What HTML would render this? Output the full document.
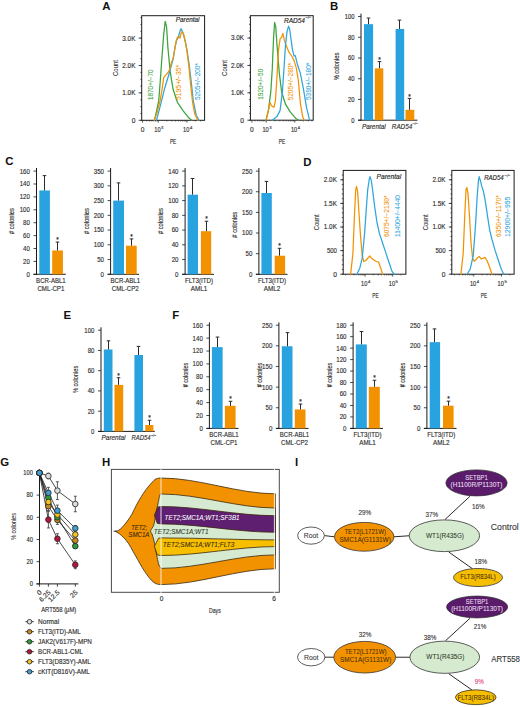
<!DOCTYPE html>
<html><head><meta charset="utf-8"><style>
html,body{margin:0;padding:0;background:#fff;width:520px;height:707px;overflow:hidden;}
svg{display:block;}
text{font-family:"Liberation Sans", sans-serif;}
</style></head><body>
<svg width="520" height="707" viewBox="0 0 520 707" font-family='"Liberation Sans", sans-serif'>
<rect x="0.00" y="0.00" width="520.00" height="707.00" fill="#ffffff" />
<text x="102.20" y="9.80" font-size="11.4" fill="#111" font-weight="bold" >A</text>
<rect x="141.70" y="15.70" width="62.90" height="104.60" fill="none" stroke="#1a1a1a" stroke-width="1.0"/>
<line x1="138.70" y1="120.30" x2="141.70" y2="120.30" stroke="#1a1a1a" stroke-width="0.8" />
<text x="135.40" y="122.70" font-size="6.7" fill="#2e2e2e" stroke="#2e2e2e" stroke-width="0.14" text-anchor="end" >0</text>
<line x1="138.70" y1="92.90" x2="141.70" y2="92.90" stroke="#1a1a1a" stroke-width="0.8" />
<text x="135.40" y="95.30" font-size="6.7" fill="#2e2e2e" stroke="#2e2e2e" stroke-width="0.14" text-anchor="end" textLength="13.10" lengthAdjust="spacingAndGlyphs" >1.0K</text>
<line x1="138.70" y1="65.50" x2="141.70" y2="65.50" stroke="#1a1a1a" stroke-width="0.8" />
<text x="135.40" y="67.90" font-size="6.7" fill="#2e2e2e" stroke="#2e2e2e" stroke-width="0.14" text-anchor="end" textLength="13.10" lengthAdjust="spacingAndGlyphs" >2.0K</text>
<line x1="138.70" y1="38.10" x2="141.70" y2="38.10" stroke="#1a1a1a" stroke-width="0.8" />
<text x="135.40" y="40.50" font-size="6.7" fill="#2e2e2e" stroke="#2e2e2e" stroke-width="0.14" text-anchor="end" textLength="13.10" lengthAdjust="spacingAndGlyphs" >3.0K</text>
<line x1="140.30" y1="120.30" x2="141.70" y2="120.30" stroke="#1a1a1a" stroke-width="0.7" />
<line x1="140.30" y1="113.45" x2="141.70" y2="113.45" stroke="#1a1a1a" stroke-width="0.7" />
<line x1="140.30" y1="106.60" x2="141.70" y2="106.60" stroke="#1a1a1a" stroke-width="0.7" />
<line x1="140.30" y1="99.75" x2="141.70" y2="99.75" stroke="#1a1a1a" stroke-width="0.7" />
<line x1="140.30" y1="92.90" x2="141.70" y2="92.90" stroke="#1a1a1a" stroke-width="0.7" />
<line x1="140.30" y1="86.05" x2="141.70" y2="86.05" stroke="#1a1a1a" stroke-width="0.7" />
<line x1="140.30" y1="79.20" x2="141.70" y2="79.20" stroke="#1a1a1a" stroke-width="0.7" />
<line x1="140.30" y1="72.35" x2="141.70" y2="72.35" stroke="#1a1a1a" stroke-width="0.7" />
<line x1="140.30" y1="65.50" x2="141.70" y2="65.50" stroke="#1a1a1a" stroke-width="0.7" />
<line x1="140.30" y1="58.65" x2="141.70" y2="58.65" stroke="#1a1a1a" stroke-width="0.7" />
<line x1="140.30" y1="51.80" x2="141.70" y2="51.80" stroke="#1a1a1a" stroke-width="0.7" />
<line x1="140.30" y1="44.95" x2="141.70" y2="44.95" stroke="#1a1a1a" stroke-width="0.7" />
<line x1="140.30" y1="38.10" x2="141.70" y2="38.10" stroke="#1a1a1a" stroke-width="0.7" />
<line x1="140.30" y1="31.25" x2="141.70" y2="31.25" stroke="#1a1a1a" stroke-width="0.7" />
<line x1="140.30" y1="24.40" x2="141.70" y2="24.40" stroke="#1a1a1a" stroke-width="0.7" />
<line x1="140.30" y1="17.55" x2="141.70" y2="17.55" stroke="#1a1a1a" stroke-width="0.7" />
<line x1="142.60" y1="120.30" x2="142.60" y2="122.70" stroke="#1a1a1a" stroke-width="0.7" />
<line x1="158.20" y1="120.30" x2="158.20" y2="122.70" stroke="#1a1a1a" stroke-width="0.7" />
<line x1="187.00" y1="120.30" x2="187.00" y2="122.70" stroke="#1a1a1a" stroke-width="0.7" />
<text x="118.00" y="68.00" font-size="8.0" fill="#2e2e2e" stroke="#2e2e2e" stroke-width="0.06" text-anchor="middle" textLength="15.90" lengthAdjust="spacingAndGlyphs" transform="rotate(-90 118.00 68.00)" >Count</text>
<line x1="146.74" y1="120.30" x2="146.74" y2="121.60" stroke="#1a1a1a" stroke-width="0.5" />
<line x1="149.53" y1="120.30" x2="149.53" y2="121.60" stroke="#1a1a1a" stroke-width="0.5" />
<line x1="151.81" y1="120.30" x2="151.81" y2="121.60" stroke="#1a1a1a" stroke-width="0.5" />
<line x1="153.74" y1="120.30" x2="153.74" y2="121.60" stroke="#1a1a1a" stroke-width="0.5" />
<line x1="155.41" y1="120.30" x2="155.41" y2="121.60" stroke="#1a1a1a" stroke-width="0.5" />
<line x1="156.88" y1="120.30" x2="156.88" y2="121.60" stroke="#1a1a1a" stroke-width="0.5" />
<line x1="166.87" y1="120.30" x2="166.87" y2="121.60" stroke="#1a1a1a" stroke-width="0.5" />
<line x1="171.94" y1="120.30" x2="171.94" y2="121.60" stroke="#1a1a1a" stroke-width="0.5" />
<line x1="175.54" y1="120.30" x2="175.54" y2="121.60" stroke="#1a1a1a" stroke-width="0.5" />
<line x1="178.33" y1="120.30" x2="178.33" y2="121.60" stroke="#1a1a1a" stroke-width="0.5" />
<line x1="180.61" y1="120.30" x2="180.61" y2="121.60" stroke="#1a1a1a" stroke-width="0.5" />
<line x1="182.54" y1="120.30" x2="182.54" y2="121.60" stroke="#1a1a1a" stroke-width="0.5" />
<line x1="184.21" y1="120.30" x2="184.21" y2="121.60" stroke="#1a1a1a" stroke-width="0.5" />
<line x1="185.68" y1="120.30" x2="185.68" y2="121.60" stroke="#1a1a1a" stroke-width="0.5" />
<line x1="195.67" y1="120.30" x2="195.67" y2="121.60" stroke="#1a1a1a" stroke-width="0.5" />
<line x1="200.74" y1="120.30" x2="200.74" y2="121.60" stroke="#1a1a1a" stroke-width="0.5" />
<text x="142.60" y="132.10" font-size="6.6" fill="#2e2e2e" stroke="#2e2e2e" stroke-width="0.14" text-anchor="middle" >0</text>
<text x="157.45" y="132.10" font-size="6.6" fill="#2e2e2e" stroke="#2e2e2e" stroke-width="0.14" text-anchor="middle" textLength="6.30" lengthAdjust="spacingAndGlyphs" >10</text>
<text x="161.10" y="128.60" font-size="4.2" fill="#2e2e2e" stroke="#2e2e2e" stroke-width="0.14" >3</text>
<text x="186.25" y="132.10" font-size="6.6" fill="#2e2e2e" stroke="#2e2e2e" stroke-width="0.14" text-anchor="middle" textLength="6.30" lengthAdjust="spacingAndGlyphs" >10</text>
<text x="189.90" y="128.60" font-size="4.2" fill="#2e2e2e" stroke="#2e2e2e" stroke-width="0.14" >4</text>
<text x="173.10" y="143.60" font-size="7.3" fill="#2e2e2e" stroke="#2e2e2e" stroke-width="0.14" text-anchor="middle" textLength="6.40" lengthAdjust="spacingAndGlyphs" >PE</text>
<text x="175.80" y="22.10" font-size="6.4" fill="#222" stroke="#222" stroke-width="0.14" font-style="italic" textLength="23.60" lengthAdjust="spacingAndGlyphs" >Parental</text>
<polyline points="154.30,120.30 156.50,111.50 158.70,100.80 160.20,82.00 161.50,63.30 163.70,34.40 165.20,21.40 166.60,27.20 168.00,48.90 170.20,71.90 173.10,89.30 177.40,102.30 183.20,110.90 189.00,118.10 191.80,120.30" fill="none" stroke="#3DA33C" stroke-width="1.25" stroke-linejoin="round" stroke-linecap="round" />
<polyline points="156.50,120.30 160.10,106.60 164.40,89.30 168.80,74.80 173.10,59.00 175.30,46.00 176.70,40.20 178.10,38.00 180.30,30.10 181.00,28.70 182.50,31.50 184.60,38.80 186.80,48.90 189.00,63.30 191.10,80.60 193.30,100.80 196.20,115.20 199.00,120.30" fill="none" stroke="#2EA6DC" stroke-width="1.25" stroke-linejoin="round" stroke-linecap="round" />
<polyline points="154.30,120.30 157.20,112.40 160.10,100.80 162.30,87.80 163.70,77.70 165.20,75.60 166.60,74.10 168.00,72.70 169.50,69.80 171.60,61.80 173.10,59.00 174.50,50.30 176.00,41.60 177.40,37.30 178.90,36.60 180.00,38.00 181.00,33.70 182.00,31.50 183.50,33.70 185.40,41.60 187.20,53.20 189.00,67.60 190.70,84.90 192.60,102.30 194.70,113.80 197.60,120.30" fill="none" stroke="#F39200" stroke-width="1.25" stroke-linejoin="round" stroke-linecap="round" />
<text x="153.20" y="100.00" font-size="6.6" fill="#3DA33C" stroke="#3DA33C" stroke-width="0.06" textLength="30.50" lengthAdjust="spacingAndGlyphs" transform="rotate(-90 153.20 100.00)" >1870+/−70</text>
<text x="180.90" y="100.00" font-size="6.6" fill="#F39200" stroke="#F39200" stroke-width="0.06" textLength="35.20" lengthAdjust="spacingAndGlyphs" transform="rotate(-90 180.90 100.00)" >5195+/−35*</text>
<text x="200.20" y="100.00" font-size="6.6" fill="#2EA6DC" stroke="#2EA6DC" stroke-width="0.06" textLength="36.90" lengthAdjust="spacingAndGlyphs" transform="rotate(-90 200.20 100.00)" >5205+/−200*</text>
<rect x="250.40" y="15.70" width="62.80" height="104.50" fill="none" stroke="#1a1a1a" stroke-width="1.0"/>
<line x1="247.40" y1="120.20" x2="250.40" y2="120.20" stroke="#1a1a1a" stroke-width="0.8" />
<text x="244.10" y="122.60" font-size="6.7" fill="#2e2e2e" stroke="#2e2e2e" stroke-width="0.14" text-anchor="end" >0</text>
<line x1="247.40" y1="92.80" x2="250.40" y2="92.80" stroke="#1a1a1a" stroke-width="0.8" />
<text x="244.10" y="95.20" font-size="6.7" fill="#2e2e2e" stroke="#2e2e2e" stroke-width="0.14" text-anchor="end" textLength="13.10" lengthAdjust="spacingAndGlyphs" >1.0K</text>
<line x1="247.40" y1="65.40" x2="250.40" y2="65.40" stroke="#1a1a1a" stroke-width="0.8" />
<text x="244.10" y="67.80" font-size="6.7" fill="#2e2e2e" stroke="#2e2e2e" stroke-width="0.14" text-anchor="end" textLength="13.10" lengthAdjust="spacingAndGlyphs" >2.0K</text>
<line x1="247.40" y1="38.00" x2="250.40" y2="38.00" stroke="#1a1a1a" stroke-width="0.8" />
<text x="244.10" y="40.40" font-size="6.7" fill="#2e2e2e" stroke="#2e2e2e" stroke-width="0.14" text-anchor="end" textLength="13.10" lengthAdjust="spacingAndGlyphs" >3.0K</text>
<line x1="249.00" y1="120.20" x2="250.40" y2="120.20" stroke="#1a1a1a" stroke-width="0.7" />
<line x1="249.00" y1="113.35" x2="250.40" y2="113.35" stroke="#1a1a1a" stroke-width="0.7" />
<line x1="249.00" y1="106.50" x2="250.40" y2="106.50" stroke="#1a1a1a" stroke-width="0.7" />
<line x1="249.00" y1="99.65" x2="250.40" y2="99.65" stroke="#1a1a1a" stroke-width="0.7" />
<line x1="249.00" y1="92.80" x2="250.40" y2="92.80" stroke="#1a1a1a" stroke-width="0.7" />
<line x1="249.00" y1="85.95" x2="250.40" y2="85.95" stroke="#1a1a1a" stroke-width="0.7" />
<line x1="249.00" y1="79.10" x2="250.40" y2="79.10" stroke="#1a1a1a" stroke-width="0.7" />
<line x1="249.00" y1="72.25" x2="250.40" y2="72.25" stroke="#1a1a1a" stroke-width="0.7" />
<line x1="249.00" y1="65.40" x2="250.40" y2="65.40" stroke="#1a1a1a" stroke-width="0.7" />
<line x1="249.00" y1="58.55" x2="250.40" y2="58.55" stroke="#1a1a1a" stroke-width="0.7" />
<line x1="249.00" y1="51.70" x2="250.40" y2="51.70" stroke="#1a1a1a" stroke-width="0.7" />
<line x1="249.00" y1="44.85" x2="250.40" y2="44.85" stroke="#1a1a1a" stroke-width="0.7" />
<line x1="249.00" y1="38.00" x2="250.40" y2="38.00" stroke="#1a1a1a" stroke-width="0.7" />
<line x1="249.00" y1="31.15" x2="250.40" y2="31.15" stroke="#1a1a1a" stroke-width="0.7" />
<line x1="249.00" y1="24.30" x2="250.40" y2="24.30" stroke="#1a1a1a" stroke-width="0.7" />
<line x1="249.00" y1="17.45" x2="250.40" y2="17.45" stroke="#1a1a1a" stroke-width="0.7" />
<line x1="251.90" y1="120.20" x2="251.90" y2="122.60" stroke="#1a1a1a" stroke-width="0.7" />
<line x1="266.30" y1="120.20" x2="266.30" y2="122.60" stroke="#1a1a1a" stroke-width="0.7" />
<line x1="294.80" y1="120.20" x2="294.80" y2="122.60" stroke="#1a1a1a" stroke-width="0.7" />
<text x="226.70" y="67.95" font-size="8.0" fill="#2e2e2e" stroke="#2e2e2e" stroke-width="0.06" text-anchor="middle" textLength="15.90" lengthAdjust="spacingAndGlyphs" transform="rotate(-90 226.70 67.95)" >Count</text>
<line x1="254.96" y1="120.20" x2="254.96" y2="121.50" stroke="#1a1a1a" stroke-width="0.5" />
<line x1="257.72" y1="120.20" x2="257.72" y2="121.50" stroke="#1a1a1a" stroke-width="0.5" />
<line x1="259.98" y1="120.20" x2="259.98" y2="121.50" stroke="#1a1a1a" stroke-width="0.5" />
<line x1="261.89" y1="120.20" x2="261.89" y2="121.50" stroke="#1a1a1a" stroke-width="0.5" />
<line x1="263.54" y1="120.20" x2="263.54" y2="121.50" stroke="#1a1a1a" stroke-width="0.5" />
<line x1="265.00" y1="120.20" x2="265.00" y2="121.50" stroke="#1a1a1a" stroke-width="0.5" />
<line x1="274.88" y1="120.20" x2="274.88" y2="121.50" stroke="#1a1a1a" stroke-width="0.5" />
<line x1="279.90" y1="120.20" x2="279.90" y2="121.50" stroke="#1a1a1a" stroke-width="0.5" />
<line x1="283.46" y1="120.20" x2="283.46" y2="121.50" stroke="#1a1a1a" stroke-width="0.5" />
<line x1="286.22" y1="120.20" x2="286.22" y2="121.50" stroke="#1a1a1a" stroke-width="0.5" />
<line x1="288.48" y1="120.20" x2="288.48" y2="121.50" stroke="#1a1a1a" stroke-width="0.5" />
<line x1="290.39" y1="120.20" x2="290.39" y2="121.50" stroke="#1a1a1a" stroke-width="0.5" />
<line x1="292.04" y1="120.20" x2="292.04" y2="121.50" stroke="#1a1a1a" stroke-width="0.5" />
<line x1="293.50" y1="120.20" x2="293.50" y2="121.50" stroke="#1a1a1a" stroke-width="0.5" />
<line x1="303.38" y1="120.20" x2="303.38" y2="121.50" stroke="#1a1a1a" stroke-width="0.5" />
<line x1="308.40" y1="120.20" x2="308.40" y2="121.50" stroke="#1a1a1a" stroke-width="0.5" />
<line x1="311.96" y1="120.20" x2="311.96" y2="121.50" stroke="#1a1a1a" stroke-width="0.5" />
<text x="251.90" y="132.00" font-size="6.6" fill="#2e2e2e" stroke="#2e2e2e" stroke-width="0.14" text-anchor="middle" >0</text>
<text x="265.55" y="132.00" font-size="6.6" fill="#2e2e2e" stroke="#2e2e2e" stroke-width="0.14" text-anchor="middle" textLength="6.30" lengthAdjust="spacingAndGlyphs" >10</text>
<text x="269.20" y="128.50" font-size="4.2" fill="#2e2e2e" stroke="#2e2e2e" stroke-width="0.14" >3</text>
<text x="294.05" y="132.00" font-size="6.6" fill="#2e2e2e" stroke="#2e2e2e" stroke-width="0.14" text-anchor="middle" textLength="6.30" lengthAdjust="spacingAndGlyphs" >10</text>
<text x="297.70" y="128.50" font-size="4.2" fill="#2e2e2e" stroke="#2e2e2e" stroke-width="0.14" >4</text>
<text x="282.00" y="143.50" font-size="7.3" fill="#2e2e2e" stroke="#2e2e2e" stroke-width="0.14" text-anchor="middle" textLength="6.40" lengthAdjust="spacingAndGlyphs" >PE</text>
<text x="284.00" y="22.50" font-size="6.4" fill="#222" stroke="#222" stroke-width="0.14" font-style="italic" textLength="21.00" lengthAdjust="spacingAndGlyphs" >RAD54</text>
<text x="305.40" y="19.40" font-size="4.0" fill="#222" stroke="#222" stroke-width="0.14" font-style="italic" >−/−</text>
<polyline points="266.10,120.20 268.40,110.40 270.80,91.70 272.30,68.40 273.60,37.30 274.60,22.50 275.70,26.40 277.00,45.10 279.30,73.10 281.60,91.70 285.50,104.20 290.20,111.90 295.60,118.20 298.70,120.20" fill="none" stroke="#3DA33C" stroke-width="1.25" stroke-linejoin="round" stroke-linecap="round" />
<polyline points="266.10,120.20 268.40,110.40 270.00,102.60 271.50,105.70 273.90,107.30 275.40,101.00 277.00,76.20 278.50,49.80 280.10,38.90 281.60,37.30 282.90,33.40 284.40,40.40 286.00,45.10 287.90,49.80 289.40,52.90 291.70,56.00 294.10,60.60 296.40,68.40 298.40,80.80 300.30,102.60 302.60,116.60 304.20,120.20" fill="none" stroke="#F39200" stroke-width="1.25" stroke-linejoin="round" stroke-linecap="round" />
<polyline points="272.30,120.20 277.00,116.60 280.10,110.40 282.40,91.70 284.00,68.40 285.50,45.10 287.10,31.10 288.60,26.10 289.70,29.50 291.00,38.90 292.50,49.80 294.10,56.00 295.30,55.70 297.20,63.70 300.30,73.10 303.40,88.60 306.50,107.30 309.60,120.20" fill="none" stroke="#2EA6DC" stroke-width="1.25" stroke-linejoin="round" stroke-linecap="round" />
<text x="263.30" y="99.80" font-size="6.6" fill="#3DA33C" stroke="#3DA33C" stroke-width="0.06" textLength="31.10" lengthAdjust="spacingAndGlyphs" transform="rotate(-90 263.30 99.80)" >1920+/−50</text>
<text x="292.80" y="100.50" font-size="6.6" fill="#F39200" stroke="#F39200" stroke-width="0.06" textLength="37.50" lengthAdjust="spacingAndGlyphs" transform="rotate(-90 292.80 100.50)" >5205+/−280*</text>
<text x="311.20" y="100.10" font-size="6.6" fill="#2EA6DC" stroke="#2EA6DC" stroke-width="0.06" textLength="37.50" lengthAdjust="spacingAndGlyphs" transform="rotate(-90 311.20 100.10)" >5390+/−180*</text>
<text x="330.10" y="9.80" font-size="11.4" fill="#111" font-weight="bold" >B</text>
<line x1="361.00" y1="13.60" x2="361.00" y2="120.70" stroke="#1a1a1a" stroke-width="1.0" />
<line x1="358.00" y1="120.20" x2="417.40" y2="120.20" stroke="#1a1a1a" stroke-width="1.0" />
<line x1="358.00" y1="120.20" x2="361.00" y2="120.20" stroke="#1a1a1a" stroke-width="0.8" />
<text x="354.40" y="122.60" font-size="6.7" fill="#2e2e2e" stroke="#2e2e2e" stroke-width="0.14" text-anchor="end" textLength="3.25" lengthAdjust="spacingAndGlyphs" >0</text>
<line x1="358.00" y1="99.46" x2="361.00" y2="99.46" stroke="#1a1a1a" stroke-width="0.8" />
<text x="354.40" y="101.86" font-size="6.7" fill="#2e2e2e" stroke="#2e2e2e" stroke-width="0.14" text-anchor="end" textLength="6.50" lengthAdjust="spacingAndGlyphs" >20</text>
<line x1="358.00" y1="78.72" x2="361.00" y2="78.72" stroke="#1a1a1a" stroke-width="0.8" />
<text x="354.40" y="81.12" font-size="6.7" fill="#2e2e2e" stroke="#2e2e2e" stroke-width="0.14" text-anchor="end" textLength="6.50" lengthAdjust="spacingAndGlyphs" >40</text>
<line x1="358.00" y1="57.98" x2="361.00" y2="57.98" stroke="#1a1a1a" stroke-width="0.8" />
<text x="354.40" y="60.38" font-size="6.7" fill="#2e2e2e" stroke="#2e2e2e" stroke-width="0.14" text-anchor="end" textLength="6.50" lengthAdjust="spacingAndGlyphs" >60</text>
<line x1="358.00" y1="37.24" x2="361.00" y2="37.24" stroke="#1a1a1a" stroke-width="0.8" />
<text x="354.40" y="39.64" font-size="6.7" fill="#2e2e2e" stroke="#2e2e2e" stroke-width="0.14" text-anchor="end" textLength="6.50" lengthAdjust="spacingAndGlyphs" >80</text>
<line x1="358.00" y1="16.50" x2="361.00" y2="16.50" stroke="#1a1a1a" stroke-width="0.8" />
<text x="354.40" y="18.90" font-size="6.7" fill="#2e2e2e" stroke="#2e2e2e" stroke-width="0.14" text-anchor="end" textLength="9.75" lengthAdjust="spacingAndGlyphs" >100</text>
<rect x="364.00" y="24.17" width="9.10" height="96.03" fill="#29A3E0" />
<line x1="368.50" y1="24.17" x2="368.50" y2="18.06" stroke="#2a2a2a" stroke-width="1.0" />
<line x1="366.70" y1="18.06" x2="370.30" y2="18.06" stroke="#2a2a2a" stroke-width="1.0" />
<rect x="374.80" y="68.35" width="8.50" height="51.85" fill="#F39200" />
<line x1="379.50" y1="68.35" x2="379.50" y2="61.61" stroke="#2a2a2a" stroke-width="1.0" />
<line x1="377.70" y1="61.61" x2="381.30" y2="61.61" stroke="#2a2a2a" stroke-width="1.0" />
<text x="379.50" y="61.71" font-size="6.4" fill="#2a2a2a" stroke="#2a2a2a" stroke-width="0.2" text-anchor="middle" >*</text>
<rect x="395.60" y="28.94" width="8.60" height="91.26" fill="#29A3E0" />
<line x1="399.50" y1="28.94" x2="399.50" y2="20.13" stroke="#2a2a2a" stroke-width="1.0" />
<line x1="397.70" y1="20.13" x2="401.30" y2="20.13" stroke="#2a2a2a" stroke-width="1.0" />
<rect x="405.50" y="109.83" width="8.80" height="10.37" fill="#F39200" />
<line x1="409.50" y1="109.83" x2="409.50" y2="98.42" stroke="#2a2a2a" stroke-width="1.0" />
<line x1="407.70" y1="98.42" x2="411.30" y2="98.42" stroke="#2a2a2a" stroke-width="1.0" />
<text x="409.50" y="98.52" font-size="6.4" fill="#2a2a2a" stroke="#2a2a2a" stroke-width="0.2" text-anchor="middle" >*</text>
<text x="339.00" y="66.50" font-size="7.9" fill="#2e2e2e" stroke="#2e2e2e" stroke-width="0.14" text-anchor="middle" textLength="27.60" lengthAdjust="spacingAndGlyphs" transform="rotate(-90 339.00 66.50)" >% colonies</text>
<text x="373.80" y="128.50" font-size="6.7" fill="#2e2e2e" stroke="#2e2e2e" stroke-width="0.14" text-anchor="middle" font-style="italic" textLength="23.80" lengthAdjust="spacingAndGlyphs" >Parental</text>
<text x="402.00" y="128.50" font-size="6.7" fill="#2e2e2e" stroke="#2e2e2e" stroke-width="0.14" text-anchor="middle" font-style="italic" textLength="20.30" lengthAdjust="spacingAndGlyphs" >RAD54</text>
<text x="412.40" y="125.40" font-size="4.0" fill="#2e2e2e" stroke="#2e2e2e" stroke-width="0.14" font-style="italic" >−/−</text>
<text x="5.20" y="164.70" font-size="11.4" fill="#111" font-weight="bold" >C</text>
<line x1="36.50" y1="168.00" x2="36.50" y2="274.80" stroke="#1a1a1a" stroke-width="1.0" />
<line x1="33.50" y1="274.30" x2="65.80" y2="274.30" stroke="#1a1a1a" stroke-width="1.0" />
<line x1="33.50" y1="274.30" x2="36.50" y2="274.30" stroke="#1a1a1a" stroke-width="0.8" />
<text x="29.90" y="276.70" font-size="6.7" fill="#2e2e2e" stroke="#2e2e2e" stroke-width="0.14" text-anchor="end" textLength="3.40" lengthAdjust="spacingAndGlyphs" >0</text>
<line x1="33.50" y1="261.40" x2="36.50" y2="261.40" stroke="#1a1a1a" stroke-width="0.8" />
<text x="29.90" y="263.80" font-size="6.7" fill="#2e2e2e" stroke="#2e2e2e" stroke-width="0.14" text-anchor="end" textLength="6.80" lengthAdjust="spacingAndGlyphs" >20</text>
<line x1="33.50" y1="248.50" x2="36.50" y2="248.50" stroke="#1a1a1a" stroke-width="0.8" />
<text x="29.90" y="250.90" font-size="6.7" fill="#2e2e2e" stroke="#2e2e2e" stroke-width="0.14" text-anchor="end" textLength="6.80" lengthAdjust="spacingAndGlyphs" >40</text>
<line x1="33.50" y1="235.60" x2="36.50" y2="235.60" stroke="#1a1a1a" stroke-width="0.8" />
<text x="29.90" y="238.00" font-size="6.7" fill="#2e2e2e" stroke="#2e2e2e" stroke-width="0.14" text-anchor="end" textLength="6.80" lengthAdjust="spacingAndGlyphs" >60</text>
<line x1="33.50" y1="222.70" x2="36.50" y2="222.70" stroke="#1a1a1a" stroke-width="0.8" />
<text x="29.90" y="225.10" font-size="6.7" fill="#2e2e2e" stroke="#2e2e2e" stroke-width="0.14" text-anchor="end" textLength="6.80" lengthAdjust="spacingAndGlyphs" >80</text>
<line x1="33.50" y1="209.80" x2="36.50" y2="209.80" stroke="#1a1a1a" stroke-width="0.8" />
<text x="29.90" y="212.20" font-size="6.7" fill="#2e2e2e" stroke="#2e2e2e" stroke-width="0.14" text-anchor="end" textLength="10.20" lengthAdjust="spacingAndGlyphs" >100</text>
<line x1="33.50" y1="196.90" x2="36.50" y2="196.90" stroke="#1a1a1a" stroke-width="0.8" />
<text x="29.90" y="199.30" font-size="6.7" fill="#2e2e2e" stroke="#2e2e2e" stroke-width="0.14" text-anchor="end" textLength="10.20" lengthAdjust="spacingAndGlyphs" >120</text>
<line x1="33.50" y1="184.00" x2="36.50" y2="184.00" stroke="#1a1a1a" stroke-width="0.8" />
<text x="29.90" y="186.40" font-size="6.7" fill="#2e2e2e" stroke="#2e2e2e" stroke-width="0.14" text-anchor="end" textLength="10.20" lengthAdjust="spacingAndGlyphs" >140</text>
<line x1="33.50" y1="171.10" x2="36.50" y2="171.10" stroke="#1a1a1a" stroke-width="0.8" />
<text x="29.90" y="173.50" font-size="6.7" fill="#2e2e2e" stroke="#2e2e2e" stroke-width="0.14" text-anchor="end" textLength="10.20" lengthAdjust="spacingAndGlyphs" >160</text>
<rect x="39.30" y="190.45" width="10.60" height="83.85" fill="#29A3E0" />
<line x1="44.50" y1="190.45" x2="44.50" y2="175.62" stroke="#2a2a2a" stroke-width="1.0" />
<line x1="42.70" y1="175.62" x2="46.30" y2="175.62" stroke="#2a2a2a" stroke-width="1.0" />
<rect x="52.20" y="250.44" width="10.70" height="23.87" fill="#F39200" />
<line x1="57.50" y1="250.44" x2="57.50" y2="242.05" stroke="#2a2a2a" stroke-width="1.0" />
<line x1="55.70" y1="242.05" x2="59.30" y2="242.05" stroke="#2a2a2a" stroke-width="1.0" />
<text x="57.50" y="242.15" font-size="6.4" fill="#2a2a2a" stroke="#2a2a2a" stroke-width="0.2" text-anchor="middle" >*</text>
<text x="14.50" y="221.10" font-size="7.9" fill="#2e2e2e" stroke="#2e2e2e" stroke-width="0.14" text-anchor="middle" textLength="25.90" lengthAdjust="spacingAndGlyphs" transform="rotate(-90 14.50 221.10)" ># colonies</text>
<text x="50.90" y="283.30" font-size="6.7" fill="#2e2e2e" stroke="#2e2e2e" stroke-width="0.14" text-anchor="middle" textLength="29.60" lengthAdjust="spacingAndGlyphs" >BCR-ABL1</text>
<text x="50.90" y="291.20" font-size="6.7" fill="#2e2e2e" stroke="#2e2e2e" stroke-width="0.14" text-anchor="middle" textLength="26.90" lengthAdjust="spacingAndGlyphs" >CML-CP1</text>
<line x1="110.60" y1="168.00" x2="110.60" y2="274.80" stroke="#1a1a1a" stroke-width="1.0" />
<line x1="107.60" y1="274.30" x2="139.00" y2="274.30" stroke="#1a1a1a" stroke-width="1.0" />
<line x1="107.60" y1="274.30" x2="110.60" y2="274.30" stroke="#1a1a1a" stroke-width="0.8" />
<text x="104.00" y="276.70" font-size="6.7" fill="#2e2e2e" stroke="#2e2e2e" stroke-width="0.14" text-anchor="end" textLength="3.40" lengthAdjust="spacingAndGlyphs" >0</text>
<line x1="107.60" y1="259.56" x2="110.60" y2="259.56" stroke="#1a1a1a" stroke-width="0.8" />
<text x="104.00" y="261.96" font-size="6.7" fill="#2e2e2e" stroke="#2e2e2e" stroke-width="0.14" text-anchor="end" textLength="6.80" lengthAdjust="spacingAndGlyphs" >50</text>
<line x1="107.60" y1="244.81" x2="110.60" y2="244.81" stroke="#1a1a1a" stroke-width="0.8" />
<text x="104.00" y="247.21" font-size="6.7" fill="#2e2e2e" stroke="#2e2e2e" stroke-width="0.14" text-anchor="end" textLength="10.20" lengthAdjust="spacingAndGlyphs" >100</text>
<line x1="107.60" y1="230.07" x2="110.60" y2="230.07" stroke="#1a1a1a" stroke-width="0.8" />
<text x="104.00" y="232.47" font-size="6.7" fill="#2e2e2e" stroke="#2e2e2e" stroke-width="0.14" text-anchor="end" textLength="10.20" lengthAdjust="spacingAndGlyphs" >150</text>
<line x1="107.60" y1="215.33" x2="110.60" y2="215.33" stroke="#1a1a1a" stroke-width="0.8" />
<text x="104.00" y="217.73" font-size="6.7" fill="#2e2e2e" stroke="#2e2e2e" stroke-width="0.14" text-anchor="end" textLength="10.20" lengthAdjust="spacingAndGlyphs" >200</text>
<line x1="107.60" y1="200.59" x2="110.60" y2="200.59" stroke="#1a1a1a" stroke-width="0.8" />
<text x="104.00" y="202.99" font-size="6.7" fill="#2e2e2e" stroke="#2e2e2e" stroke-width="0.14" text-anchor="end" textLength="10.20" lengthAdjust="spacingAndGlyphs" >250</text>
<line x1="107.60" y1="185.84" x2="110.60" y2="185.84" stroke="#1a1a1a" stroke-width="0.8" />
<text x="104.00" y="188.24" font-size="6.7" fill="#2e2e2e" stroke="#2e2e2e" stroke-width="0.14" text-anchor="end" textLength="10.20" lengthAdjust="spacingAndGlyphs" >300</text>
<line x1="107.60" y1="171.10" x2="110.60" y2="171.10" stroke="#1a1a1a" stroke-width="0.8" />
<text x="104.00" y="173.50" font-size="6.7" fill="#2e2e2e" stroke="#2e2e2e" stroke-width="0.14" text-anchor="end" textLength="10.20" lengthAdjust="spacingAndGlyphs" >350</text>
<rect x="113.20" y="200.59" width="10.80" height="73.71" fill="#29A3E0" />
<line x1="118.50" y1="200.59" x2="118.50" y2="182.89" stroke="#2a2a2a" stroke-width="1.0" />
<line x1="116.70" y1="182.89" x2="120.30" y2="182.89" stroke="#2a2a2a" stroke-width="1.0" />
<rect x="126.00" y="245.70" width="10.70" height="28.60" fill="#F39200" />
<line x1="131.50" y1="245.70" x2="131.50" y2="238.92" stroke="#2a2a2a" stroke-width="1.0" />
<line x1="129.70" y1="238.92" x2="133.30" y2="238.92" stroke="#2a2a2a" stroke-width="1.0" />
<text x="131.50" y="239.02" font-size="6.4" fill="#2a2a2a" stroke="#2a2a2a" stroke-width="0.2" text-anchor="middle" >*</text>
<text x="88.80" y="221.10" font-size="7.9" fill="#2e2e2e" stroke="#2e2e2e" stroke-width="0.14" text-anchor="middle" textLength="25.90" lengthAdjust="spacingAndGlyphs" transform="rotate(-90 88.80 221.10)" ># colonies</text>
<text x="125.30" y="283.30" font-size="6.7" fill="#2e2e2e" stroke="#2e2e2e" stroke-width="0.14" text-anchor="middle" textLength="29.60" lengthAdjust="spacingAndGlyphs" >BCR-ABL1</text>
<text x="125.30" y="291.20" font-size="6.7" fill="#2e2e2e" stroke="#2e2e2e" stroke-width="0.14" text-anchor="middle" textLength="26.90" lengthAdjust="spacingAndGlyphs" >CML-CP2</text>
<line x1="185.10" y1="168.00" x2="185.10" y2="274.80" stroke="#1a1a1a" stroke-width="1.0" />
<line x1="182.10" y1="274.30" x2="214.00" y2="274.30" stroke="#1a1a1a" stroke-width="1.0" />
<line x1="182.10" y1="274.30" x2="185.10" y2="274.30" stroke="#1a1a1a" stroke-width="0.8" />
<text x="178.50" y="276.70" font-size="6.7" fill="#2e2e2e" stroke="#2e2e2e" stroke-width="0.14" text-anchor="end" textLength="3.40" lengthAdjust="spacingAndGlyphs" >0</text>
<line x1="182.10" y1="259.56" x2="185.10" y2="259.56" stroke="#1a1a1a" stroke-width="0.8" />
<text x="178.50" y="261.96" font-size="6.7" fill="#2e2e2e" stroke="#2e2e2e" stroke-width="0.14" text-anchor="end" textLength="6.80" lengthAdjust="spacingAndGlyphs" >20</text>
<line x1="182.10" y1="244.81" x2="185.10" y2="244.81" stroke="#1a1a1a" stroke-width="0.8" />
<text x="178.50" y="247.21" font-size="6.7" fill="#2e2e2e" stroke="#2e2e2e" stroke-width="0.14" text-anchor="end" textLength="6.80" lengthAdjust="spacingAndGlyphs" >40</text>
<line x1="182.10" y1="230.07" x2="185.10" y2="230.07" stroke="#1a1a1a" stroke-width="0.8" />
<text x="178.50" y="232.47" font-size="6.7" fill="#2e2e2e" stroke="#2e2e2e" stroke-width="0.14" text-anchor="end" textLength="6.80" lengthAdjust="spacingAndGlyphs" >60</text>
<line x1="182.10" y1="215.33" x2="185.10" y2="215.33" stroke="#1a1a1a" stroke-width="0.8" />
<text x="178.50" y="217.73" font-size="6.7" fill="#2e2e2e" stroke="#2e2e2e" stroke-width="0.14" text-anchor="end" textLength="6.80" lengthAdjust="spacingAndGlyphs" >80</text>
<line x1="182.10" y1="200.59" x2="185.10" y2="200.59" stroke="#1a1a1a" stroke-width="0.8" />
<text x="178.50" y="202.99" font-size="6.7" fill="#2e2e2e" stroke="#2e2e2e" stroke-width="0.14" text-anchor="end" textLength="10.20" lengthAdjust="spacingAndGlyphs" >100</text>
<line x1="182.10" y1="185.84" x2="185.10" y2="185.84" stroke="#1a1a1a" stroke-width="0.8" />
<text x="178.50" y="188.24" font-size="6.7" fill="#2e2e2e" stroke="#2e2e2e" stroke-width="0.14" text-anchor="end" textLength="10.20" lengthAdjust="spacingAndGlyphs" >120</text>
<line x1="182.10" y1="171.10" x2="185.10" y2="171.10" stroke="#1a1a1a" stroke-width="0.8" />
<text x="178.50" y="173.50" font-size="6.7" fill="#2e2e2e" stroke="#2e2e2e" stroke-width="0.14" text-anchor="end" textLength="10.20" lengthAdjust="spacingAndGlyphs" >140</text>
<rect x="187.60" y="194.69" width="10.40" height="79.61" fill="#29A3E0" />
<line x1="192.50" y1="194.69" x2="192.50" y2="178.47" stroke="#2a2a2a" stroke-width="1.0" />
<line x1="190.70" y1="178.47" x2="194.30" y2="178.47" stroke="#2a2a2a" stroke-width="1.0" />
<rect x="200.90" y="231.18" width="10.30" height="43.12" fill="#F39200" />
<line x1="206.50" y1="231.18" x2="206.50" y2="221.23" stroke="#2a2a2a" stroke-width="1.0" />
<line x1="204.70" y1="221.23" x2="208.30" y2="221.23" stroke="#2a2a2a" stroke-width="1.0" />
<text x="206.50" y="221.33" font-size="6.4" fill="#2a2a2a" stroke="#2a2a2a" stroke-width="0.2" text-anchor="middle" >*</text>
<text x="163.20" y="221.10" font-size="7.9" fill="#2e2e2e" stroke="#2e2e2e" stroke-width="0.14" text-anchor="middle" textLength="25.90" lengthAdjust="spacingAndGlyphs" transform="rotate(-90 163.20 221.10)" ># colonies</text>
<text x="199.00" y="283.30" font-size="6.7" fill="#2e2e2e" stroke="#2e2e2e" stroke-width="0.14" text-anchor="middle" textLength="28.00" lengthAdjust="spacingAndGlyphs" >FLT3(ITD)</text>
<text x="199.00" y="291.20" font-size="6.7" fill="#2e2e2e" stroke="#2e2e2e" stroke-width="0.14" text-anchor="middle" textLength="16.50" lengthAdjust="spacingAndGlyphs" >AML1</text>
<line x1="258.90" y1="168.00" x2="258.90" y2="274.80" stroke="#1a1a1a" stroke-width="1.0" />
<line x1="255.90" y1="274.30" x2="287.50" y2="274.30" stroke="#1a1a1a" stroke-width="1.0" />
<line x1="255.90" y1="274.30" x2="258.90" y2="274.30" stroke="#1a1a1a" stroke-width="0.8" />
<text x="252.30" y="276.70" font-size="6.7" fill="#2e2e2e" stroke="#2e2e2e" stroke-width="0.14" text-anchor="end" textLength="3.40" lengthAdjust="spacingAndGlyphs" >0</text>
<line x1="255.90" y1="253.66" x2="258.90" y2="253.66" stroke="#1a1a1a" stroke-width="0.8" />
<text x="252.30" y="256.06" font-size="6.7" fill="#2e2e2e" stroke="#2e2e2e" stroke-width="0.14" text-anchor="end" textLength="6.80" lengthAdjust="spacingAndGlyphs" >50</text>
<line x1="255.90" y1="233.02" x2="258.90" y2="233.02" stroke="#1a1a1a" stroke-width="0.8" />
<text x="252.30" y="235.42" font-size="6.7" fill="#2e2e2e" stroke="#2e2e2e" stroke-width="0.14" text-anchor="end" textLength="10.20" lengthAdjust="spacingAndGlyphs" >100</text>
<line x1="255.90" y1="212.38" x2="258.90" y2="212.38" stroke="#1a1a1a" stroke-width="0.8" />
<text x="252.30" y="214.78" font-size="6.7" fill="#2e2e2e" stroke="#2e2e2e" stroke-width="0.14" text-anchor="end" textLength="10.20" lengthAdjust="spacingAndGlyphs" >150</text>
<line x1="255.90" y1="191.74" x2="258.90" y2="191.74" stroke="#1a1a1a" stroke-width="0.8" />
<text x="252.30" y="194.14" font-size="6.7" fill="#2e2e2e" stroke="#2e2e2e" stroke-width="0.14" text-anchor="end" textLength="10.20" lengthAdjust="spacingAndGlyphs" >200</text>
<line x1="255.90" y1="171.10" x2="258.90" y2="171.10" stroke="#1a1a1a" stroke-width="0.8" />
<text x="252.30" y="173.50" font-size="6.7" fill="#2e2e2e" stroke="#2e2e2e" stroke-width="0.14" text-anchor="end" textLength="10.20" lengthAdjust="spacingAndGlyphs" >250</text>
<rect x="261.40" y="192.98" width="10.40" height="81.32" fill="#29A3E0" />
<line x1="266.50" y1="192.98" x2="266.50" y2="181.42" stroke="#2a2a2a" stroke-width="1.0" />
<line x1="264.70" y1="181.42" x2="268.30" y2="181.42" stroke="#2a2a2a" stroke-width="1.0" />
<rect x="274.70" y="255.72" width="10.40" height="18.58" fill="#F39200" />
<line x1="279.50" y1="255.72" x2="279.50" y2="248.29" stroke="#2a2a2a" stroke-width="1.0" />
<line x1="277.70" y1="248.29" x2="281.30" y2="248.29" stroke="#2a2a2a" stroke-width="1.0" />
<text x="279.50" y="248.39" font-size="6.4" fill="#2a2a2a" stroke="#2a2a2a" stroke-width="0.2" text-anchor="middle" >*</text>
<text x="236.80" y="224.70" font-size="7.9" fill="#2e2e2e" stroke="#2e2e2e" stroke-width="0.14" text-anchor="middle" textLength="25.90" lengthAdjust="spacingAndGlyphs" transform="rotate(-90 236.80 224.70)" ># colonies</text>
<text x="272.00" y="283.30" font-size="6.7" fill="#2e2e2e" stroke="#2e2e2e" stroke-width="0.14" text-anchor="middle" textLength="28.00" lengthAdjust="spacingAndGlyphs" >FLT3(ITD)</text>
<text x="272.00" y="291.20" font-size="6.7" fill="#2e2e2e" stroke="#2e2e2e" stroke-width="0.14" text-anchor="middle" textLength="16.50" lengthAdjust="spacingAndGlyphs" >AML2</text>
<text x="303.30" y="166.40" font-size="11.4" fill="#111" font-weight="bold" >D</text>
<rect x="343.20" y="170.40" width="62.70" height="103.80" fill="none" stroke="#1a1a1a" stroke-width="1.0"/>
<line x1="340.20" y1="274.20" x2="343.20" y2="274.20" stroke="#1a1a1a" stroke-width="0.8" />
<text x="336.90" y="276.60" font-size="6.7" fill="#2e2e2e" stroke="#2e2e2e" stroke-width="0.14" text-anchor="end" >0</text>
<line x1="340.20" y1="250.60" x2="343.20" y2="250.60" stroke="#1a1a1a" stroke-width="0.8" />
<text x="336.90" y="253.00" font-size="6.7" fill="#2e2e2e" stroke="#2e2e2e" stroke-width="0.14" text-anchor="end" textLength="10.00" lengthAdjust="spacingAndGlyphs" >500</text>
<line x1="340.20" y1="227.00" x2="343.20" y2="227.00" stroke="#1a1a1a" stroke-width="0.8" />
<text x="336.90" y="229.40" font-size="6.7" fill="#2e2e2e" stroke="#2e2e2e" stroke-width="0.14" text-anchor="end" textLength="13.10" lengthAdjust="spacingAndGlyphs" >1.0K</text>
<line x1="340.20" y1="203.40" x2="343.20" y2="203.40" stroke="#1a1a1a" stroke-width="0.8" />
<text x="336.90" y="205.80" font-size="6.7" fill="#2e2e2e" stroke="#2e2e2e" stroke-width="0.14" text-anchor="end" textLength="13.10" lengthAdjust="spacingAndGlyphs" >1.5K</text>
<line x1="340.20" y1="179.80" x2="343.20" y2="179.80" stroke="#1a1a1a" stroke-width="0.8" />
<text x="336.90" y="182.20" font-size="6.7" fill="#2e2e2e" stroke="#2e2e2e" stroke-width="0.14" text-anchor="end" textLength="13.10" lengthAdjust="spacingAndGlyphs" >2.0K</text>
<line x1="341.80" y1="274.20" x2="343.20" y2="274.20" stroke="#1a1a1a" stroke-width="0.7" />
<line x1="341.80" y1="269.48" x2="343.20" y2="269.48" stroke="#1a1a1a" stroke-width="0.7" />
<line x1="341.80" y1="264.76" x2="343.20" y2="264.76" stroke="#1a1a1a" stroke-width="0.7" />
<line x1="341.80" y1="260.04" x2="343.20" y2="260.04" stroke="#1a1a1a" stroke-width="0.7" />
<line x1="341.80" y1="255.32" x2="343.20" y2="255.32" stroke="#1a1a1a" stroke-width="0.7" />
<line x1="341.80" y1="250.60" x2="343.20" y2="250.60" stroke="#1a1a1a" stroke-width="0.7" />
<line x1="341.80" y1="245.88" x2="343.20" y2="245.88" stroke="#1a1a1a" stroke-width="0.7" />
<line x1="341.80" y1="241.16" x2="343.20" y2="241.16" stroke="#1a1a1a" stroke-width="0.7" />
<line x1="341.80" y1="236.44" x2="343.20" y2="236.44" stroke="#1a1a1a" stroke-width="0.7" />
<line x1="341.80" y1="231.72" x2="343.20" y2="231.72" stroke="#1a1a1a" stroke-width="0.7" />
<line x1="341.80" y1="227.00" x2="343.20" y2="227.00" stroke="#1a1a1a" stroke-width="0.7" />
<line x1="341.80" y1="222.28" x2="343.20" y2="222.28" stroke="#1a1a1a" stroke-width="0.7" />
<line x1="341.80" y1="217.56" x2="343.20" y2="217.56" stroke="#1a1a1a" stroke-width="0.7" />
<line x1="341.80" y1="212.84" x2="343.20" y2="212.84" stroke="#1a1a1a" stroke-width="0.7" />
<line x1="341.80" y1="208.12" x2="343.20" y2="208.12" stroke="#1a1a1a" stroke-width="0.7" />
<line x1="341.80" y1="203.40" x2="343.20" y2="203.40" stroke="#1a1a1a" stroke-width="0.7" />
<line x1="341.80" y1="198.68" x2="343.20" y2="198.68" stroke="#1a1a1a" stroke-width="0.7" />
<line x1="341.80" y1="193.96" x2="343.20" y2="193.96" stroke="#1a1a1a" stroke-width="0.7" />
<line x1="341.80" y1="189.24" x2="343.20" y2="189.24" stroke="#1a1a1a" stroke-width="0.7" />
<line x1="341.80" y1="184.52" x2="343.20" y2="184.52" stroke="#1a1a1a" stroke-width="0.7" />
<line x1="341.80" y1="179.80" x2="343.20" y2="179.80" stroke="#1a1a1a" stroke-width="0.7" />
<line x1="341.80" y1="175.08" x2="343.20" y2="175.08" stroke="#1a1a1a" stroke-width="0.7" />
<line x1="365.00" y1="274.20" x2="365.00" y2="276.60" stroke="#1a1a1a" stroke-width="0.7" />
<line x1="392.70" y1="274.20" x2="392.70" y2="276.60" stroke="#1a1a1a" stroke-width="0.7" />
<text x="319.50" y="222.30" font-size="8.0" fill="#2e2e2e" stroke="#2e2e2e" stroke-width="0.06" text-anchor="middle" textLength="15.90" lengthAdjust="spacingAndGlyphs" transform="rotate(-90 319.50 222.30)" >Count</text>
<line x1="345.64" y1="274.20" x2="345.64" y2="275.50" stroke="#1a1a1a" stroke-width="0.5" />
<line x1="350.52" y1="274.20" x2="350.52" y2="275.50" stroke="#1a1a1a" stroke-width="0.5" />
<line x1="353.98" y1="274.20" x2="353.98" y2="275.50" stroke="#1a1a1a" stroke-width="0.5" />
<line x1="356.66" y1="274.20" x2="356.66" y2="275.50" stroke="#1a1a1a" stroke-width="0.5" />
<line x1="358.85" y1="274.20" x2="358.85" y2="275.50" stroke="#1a1a1a" stroke-width="0.5" />
<line x1="360.71" y1="274.20" x2="360.71" y2="275.50" stroke="#1a1a1a" stroke-width="0.5" />
<line x1="362.32" y1="274.20" x2="362.32" y2="275.50" stroke="#1a1a1a" stroke-width="0.5" />
<line x1="363.73" y1="274.20" x2="363.73" y2="275.50" stroke="#1a1a1a" stroke-width="0.5" />
<line x1="373.34" y1="274.20" x2="373.34" y2="275.50" stroke="#1a1a1a" stroke-width="0.5" />
<line x1="378.22" y1="274.20" x2="378.22" y2="275.50" stroke="#1a1a1a" stroke-width="0.5" />
<line x1="381.68" y1="274.20" x2="381.68" y2="275.50" stroke="#1a1a1a" stroke-width="0.5" />
<line x1="384.36" y1="274.20" x2="384.36" y2="275.50" stroke="#1a1a1a" stroke-width="0.5" />
<line x1="386.55" y1="274.20" x2="386.55" y2="275.50" stroke="#1a1a1a" stroke-width="0.5" />
<line x1="388.41" y1="274.20" x2="388.41" y2="275.50" stroke="#1a1a1a" stroke-width="0.5" />
<line x1="390.02" y1="274.20" x2="390.02" y2="275.50" stroke="#1a1a1a" stroke-width="0.5" />
<line x1="391.43" y1="274.20" x2="391.43" y2="275.50" stroke="#1a1a1a" stroke-width="0.5" />
<line x1="401.04" y1="274.20" x2="401.04" y2="275.50" stroke="#1a1a1a" stroke-width="0.5" />
<text x="364.25" y="286.00" font-size="6.6" fill="#2e2e2e" stroke="#2e2e2e" stroke-width="0.14" text-anchor="middle" textLength="6.30" lengthAdjust="spacingAndGlyphs" >10</text>
<text x="367.90" y="282.50" font-size="4.2" fill="#2e2e2e" stroke="#2e2e2e" stroke-width="0.14" >4</text>
<text x="391.95" y="286.00" font-size="6.6" fill="#2e2e2e" stroke="#2e2e2e" stroke-width="0.14" text-anchor="middle" textLength="6.30" lengthAdjust="spacingAndGlyphs" >10</text>
<text x="395.60" y="282.50" font-size="4.2" fill="#2e2e2e" stroke="#2e2e2e" stroke-width="0.14" >5</text>
<text x="375.55" y="297.50" font-size="7.3" fill="#2e2e2e" stroke="#2e2e2e" stroke-width="0.14" text-anchor="middle" textLength="6.40" lengthAdjust="spacingAndGlyphs" >PE</text>
<text x="376.60" y="178.60" font-size="6.4" fill="#222" stroke="#222" stroke-width="0.14" font-style="italic" textLength="24.60" lengthAdjust="spacingAndGlyphs" >Parental</text>
<polyline points="350.60,274.40 352.90,253.70 354.50,214.70 355.70,189.80 356.50,186.40 357.60,191.40 359.10,214.70 360.70,238.10 362.20,255.20 363.80,261.50 365.40,260.70 367.70,258.30 369.70,256.00 371.60,258.30 373.90,259.90 376.30,261.50 378.60,262.20 380.60,267.70 382.50,274.40" fill="none" stroke="#F39200" stroke-width="1.25" stroke-linejoin="round" stroke-linecap="round" />
<polyline points="356.80,274.40 359.90,267.70 362.20,258.30 364.60,233.40 366.10,211.60 367.70,189.80 369.30,178.90 370.00,176.60 371.30,180.50 372.80,191.40 374.70,206.90 377.00,222.50 379.40,233.40 382.50,242.80 385.60,252.10 388.70,261.50 391.80,270.80 394.20,274.40" fill="none" stroke="#2EA6DC" stroke-width="1.25" stroke-linejoin="round" stroke-linecap="round" />
<text x="389.00" y="237.00" font-size="6.6" fill="#F39200" stroke="#F39200" stroke-width="0.06" textLength="41.60" lengthAdjust="spacingAndGlyphs" transform="rotate(-90 389.00 237.00)" >6075+/−2130*</text>
<text x="399.70" y="237.00" font-size="6.6" fill="#2EA6DC" stroke="#2EA6DC" stroke-width="0.06" textLength="42.00" lengthAdjust="spacingAndGlyphs" transform="rotate(-90 399.70 237.00)" >11400+/−4440</text>
<rect x="451.80" y="170.40" width="62.30" height="103.80" fill="none" stroke="#1a1a1a" stroke-width="1.0"/>
<line x1="448.80" y1="274.20" x2="451.80" y2="274.20" stroke="#1a1a1a" stroke-width="0.8" />
<text x="445.50" y="276.60" font-size="6.7" fill="#2e2e2e" stroke="#2e2e2e" stroke-width="0.14" text-anchor="end" >0</text>
<line x1="448.80" y1="250.60" x2="451.80" y2="250.60" stroke="#1a1a1a" stroke-width="0.8" />
<text x="445.50" y="253.00" font-size="6.7" fill="#2e2e2e" stroke="#2e2e2e" stroke-width="0.14" text-anchor="end" textLength="10.00" lengthAdjust="spacingAndGlyphs" >500</text>
<line x1="448.80" y1="227.00" x2="451.80" y2="227.00" stroke="#1a1a1a" stroke-width="0.8" />
<text x="445.50" y="229.40" font-size="6.7" fill="#2e2e2e" stroke="#2e2e2e" stroke-width="0.14" text-anchor="end" textLength="13.10" lengthAdjust="spacingAndGlyphs" >1.0K</text>
<line x1="448.80" y1="203.40" x2="451.80" y2="203.40" stroke="#1a1a1a" stroke-width="0.8" />
<text x="445.50" y="205.80" font-size="6.7" fill="#2e2e2e" stroke="#2e2e2e" stroke-width="0.14" text-anchor="end" textLength="13.10" lengthAdjust="spacingAndGlyphs" >1.5K</text>
<line x1="448.80" y1="179.80" x2="451.80" y2="179.80" stroke="#1a1a1a" stroke-width="0.8" />
<text x="445.50" y="182.20" font-size="6.7" fill="#2e2e2e" stroke="#2e2e2e" stroke-width="0.14" text-anchor="end" textLength="13.10" lengthAdjust="spacingAndGlyphs" >2.0K</text>
<line x1="450.40" y1="274.20" x2="451.80" y2="274.20" stroke="#1a1a1a" stroke-width="0.7" />
<line x1="450.40" y1="269.48" x2="451.80" y2="269.48" stroke="#1a1a1a" stroke-width="0.7" />
<line x1="450.40" y1="264.76" x2="451.80" y2="264.76" stroke="#1a1a1a" stroke-width="0.7" />
<line x1="450.40" y1="260.04" x2="451.80" y2="260.04" stroke="#1a1a1a" stroke-width="0.7" />
<line x1="450.40" y1="255.32" x2="451.80" y2="255.32" stroke="#1a1a1a" stroke-width="0.7" />
<line x1="450.40" y1="250.60" x2="451.80" y2="250.60" stroke="#1a1a1a" stroke-width="0.7" />
<line x1="450.40" y1="245.88" x2="451.80" y2="245.88" stroke="#1a1a1a" stroke-width="0.7" />
<line x1="450.40" y1="241.16" x2="451.80" y2="241.16" stroke="#1a1a1a" stroke-width="0.7" />
<line x1="450.40" y1="236.44" x2="451.80" y2="236.44" stroke="#1a1a1a" stroke-width="0.7" />
<line x1="450.40" y1="231.72" x2="451.80" y2="231.72" stroke="#1a1a1a" stroke-width="0.7" />
<line x1="450.40" y1="227.00" x2="451.80" y2="227.00" stroke="#1a1a1a" stroke-width="0.7" />
<line x1="450.40" y1="222.28" x2="451.80" y2="222.28" stroke="#1a1a1a" stroke-width="0.7" />
<line x1="450.40" y1="217.56" x2="451.80" y2="217.56" stroke="#1a1a1a" stroke-width="0.7" />
<line x1="450.40" y1="212.84" x2="451.80" y2="212.84" stroke="#1a1a1a" stroke-width="0.7" />
<line x1="450.40" y1="208.12" x2="451.80" y2="208.12" stroke="#1a1a1a" stroke-width="0.7" />
<line x1="450.40" y1="203.40" x2="451.80" y2="203.40" stroke="#1a1a1a" stroke-width="0.7" />
<line x1="450.40" y1="198.68" x2="451.80" y2="198.68" stroke="#1a1a1a" stroke-width="0.7" />
<line x1="450.40" y1="193.96" x2="451.80" y2="193.96" stroke="#1a1a1a" stroke-width="0.7" />
<line x1="450.40" y1="189.24" x2="451.80" y2="189.24" stroke="#1a1a1a" stroke-width="0.7" />
<line x1="450.40" y1="184.52" x2="451.80" y2="184.52" stroke="#1a1a1a" stroke-width="0.7" />
<line x1="450.40" y1="179.80" x2="451.80" y2="179.80" stroke="#1a1a1a" stroke-width="0.7" />
<line x1="450.40" y1="175.08" x2="451.80" y2="175.08" stroke="#1a1a1a" stroke-width="0.7" />
<line x1="473.80" y1="274.20" x2="473.80" y2="276.60" stroke="#1a1a1a" stroke-width="0.7" />
<line x1="501.50" y1="274.20" x2="501.50" y2="276.60" stroke="#1a1a1a" stroke-width="0.7" />
<text x="428.10" y="222.30" font-size="8.0" fill="#2e2e2e" stroke="#2e2e2e" stroke-width="0.06" text-anchor="middle" textLength="15.90" lengthAdjust="spacingAndGlyphs" transform="rotate(-90 428.10 222.30)" >Count</text>
<line x1="454.44" y1="274.20" x2="454.44" y2="275.50" stroke="#1a1a1a" stroke-width="0.5" />
<line x1="459.32" y1="274.20" x2="459.32" y2="275.50" stroke="#1a1a1a" stroke-width="0.5" />
<line x1="462.78" y1="274.20" x2="462.78" y2="275.50" stroke="#1a1a1a" stroke-width="0.5" />
<line x1="465.46" y1="274.20" x2="465.46" y2="275.50" stroke="#1a1a1a" stroke-width="0.5" />
<line x1="467.65" y1="274.20" x2="467.65" y2="275.50" stroke="#1a1a1a" stroke-width="0.5" />
<line x1="469.51" y1="274.20" x2="469.51" y2="275.50" stroke="#1a1a1a" stroke-width="0.5" />
<line x1="471.12" y1="274.20" x2="471.12" y2="275.50" stroke="#1a1a1a" stroke-width="0.5" />
<line x1="472.53" y1="274.20" x2="472.53" y2="275.50" stroke="#1a1a1a" stroke-width="0.5" />
<line x1="482.14" y1="274.20" x2="482.14" y2="275.50" stroke="#1a1a1a" stroke-width="0.5" />
<line x1="487.02" y1="274.20" x2="487.02" y2="275.50" stroke="#1a1a1a" stroke-width="0.5" />
<line x1="490.48" y1="274.20" x2="490.48" y2="275.50" stroke="#1a1a1a" stroke-width="0.5" />
<line x1="493.16" y1="274.20" x2="493.16" y2="275.50" stroke="#1a1a1a" stroke-width="0.5" />
<line x1="495.35" y1="274.20" x2="495.35" y2="275.50" stroke="#1a1a1a" stroke-width="0.5" />
<line x1="497.21" y1="274.20" x2="497.21" y2="275.50" stroke="#1a1a1a" stroke-width="0.5" />
<line x1="498.82" y1="274.20" x2="498.82" y2="275.50" stroke="#1a1a1a" stroke-width="0.5" />
<line x1="500.23" y1="274.20" x2="500.23" y2="275.50" stroke="#1a1a1a" stroke-width="0.5" />
<line x1="509.84" y1="274.20" x2="509.84" y2="275.50" stroke="#1a1a1a" stroke-width="0.5" />
<text x="473.05" y="286.00" font-size="6.6" fill="#2e2e2e" stroke="#2e2e2e" stroke-width="0.14" text-anchor="middle" textLength="6.30" lengthAdjust="spacingAndGlyphs" >10</text>
<text x="476.70" y="282.50" font-size="4.2" fill="#2e2e2e" stroke="#2e2e2e" stroke-width="0.14" >4</text>
<text x="500.75" y="286.00" font-size="6.6" fill="#2e2e2e" stroke="#2e2e2e" stroke-width="0.14" text-anchor="middle" textLength="6.30" lengthAdjust="spacingAndGlyphs" >10</text>
<text x="504.40" y="282.50" font-size="4.2" fill="#2e2e2e" stroke="#2e2e2e" stroke-width="0.14" >5</text>
<text x="483.95" y="297.50" font-size="7.3" fill="#2e2e2e" stroke="#2e2e2e" stroke-width="0.14" text-anchor="middle" textLength="6.40" lengthAdjust="spacingAndGlyphs" >PE</text>
<text x="484.20" y="179.70" font-size="6.4" fill="#222" stroke="#222" stroke-width="0.14" font-style="italic" textLength="19.50" lengthAdjust="spacingAndGlyphs" >RAD54</text>
<text x="504.60" y="176.60" font-size="4.0" fill="#222" stroke="#222" stroke-width="0.14" font-style="italic" >−/−</text>
<polyline points="460.90,274.20 463.20,253.50 464.80,214.70 466.00,189.80 466.80,187.40 467.90,192.90 469.40,214.70 471.00,242.70 472.60,258.20 474.10,261.30 475.70,259.80 478.00,257.40 479.50,256.60 481.10,259.00 483.40,258.20 485.00,257.40 487.30,261.30 489.70,267.50 492.00,274.20" fill="none" stroke="#F39200" stroke-width="1.25" stroke-linejoin="round" stroke-linecap="round" />
<polyline points="467.10,274.20 470.20,269.10 473.30,255.10 475.70,222.40 477.20,196.00 478.50,180.40 479.20,176.60 480.30,180.40 481.90,186.70 483.40,191.30 485.00,199.10 487.30,214.70 489.70,230.20 492.00,239.50 495.10,250.40 498.20,259.80 501.30,269.10 503.70,274.20" fill="none" stroke="#2EA6DC" stroke-width="1.25" stroke-linejoin="round" stroke-linecap="round" />
<text x="500.80" y="237.00" font-size="6.6" fill="#F39200" stroke="#F39200" stroke-width="0.06" textLength="41.90" lengthAdjust="spacingAndGlyphs" transform="rotate(-90 500.80 237.00)" >6350+/−1170*</text>
<text x="509.70" y="237.00" font-size="6.6" fill="#2EA6DC" stroke="#2EA6DC" stroke-width="0.06" textLength="40.40" lengthAdjust="spacingAndGlyphs" transform="rotate(-90 509.70 237.00)" >12900+/−955</text>
<text x="63.60" y="318.75" font-size="11.4" fill="#111" font-weight="bold" >E</text>
<line x1="101.00" y1="327.30" x2="101.00" y2="431.90" stroke="#1a1a1a" stroke-width="1.0" />
<line x1="98.00" y1="431.40" x2="154.80" y2="431.40" stroke="#1a1a1a" stroke-width="1.0" />
<line x1="98.00" y1="431.40" x2="101.00" y2="431.40" stroke="#1a1a1a" stroke-width="0.8" />
<text x="94.40" y="433.80" font-size="6.7" fill="#2e2e2e" stroke="#2e2e2e" stroke-width="0.14" text-anchor="end" textLength="3.35" lengthAdjust="spacingAndGlyphs" >0</text>
<line x1="98.00" y1="411.16" x2="101.00" y2="411.16" stroke="#1a1a1a" stroke-width="0.8" />
<text x="94.40" y="413.56" font-size="6.7" fill="#2e2e2e" stroke="#2e2e2e" stroke-width="0.14" text-anchor="end" textLength="6.70" lengthAdjust="spacingAndGlyphs" >20</text>
<line x1="98.00" y1="390.92" x2="101.00" y2="390.92" stroke="#1a1a1a" stroke-width="0.8" />
<text x="94.40" y="393.32" font-size="6.7" fill="#2e2e2e" stroke="#2e2e2e" stroke-width="0.14" text-anchor="end" textLength="6.70" lengthAdjust="spacingAndGlyphs" >40</text>
<line x1="98.00" y1="370.68" x2="101.00" y2="370.68" stroke="#1a1a1a" stroke-width="0.8" />
<text x="94.40" y="373.08" font-size="6.7" fill="#2e2e2e" stroke="#2e2e2e" stroke-width="0.14" text-anchor="end" textLength="6.70" lengthAdjust="spacingAndGlyphs" >60</text>
<line x1="98.00" y1="350.44" x2="101.00" y2="350.44" stroke="#1a1a1a" stroke-width="0.8" />
<text x="94.40" y="352.84" font-size="6.7" fill="#2e2e2e" stroke="#2e2e2e" stroke-width="0.14" text-anchor="end" textLength="6.70" lengthAdjust="spacingAndGlyphs" >80</text>
<line x1="98.00" y1="330.20" x2="101.00" y2="330.20" stroke="#1a1a1a" stroke-width="0.8" />
<text x="94.40" y="332.60" font-size="6.7" fill="#2e2e2e" stroke="#2e2e2e" stroke-width="0.14" text-anchor="end" textLength="10.05" lengthAdjust="spacingAndGlyphs" >100</text>
<rect x="103.80" y="349.43" width="8.70" height="81.97" fill="#29A3E0" />
<line x1="108.50" y1="349.43" x2="108.50" y2="340.83" stroke="#2a2a2a" stroke-width="1.0" />
<line x1="106.70" y1="340.83" x2="110.30" y2="340.83" stroke="#2a2a2a" stroke-width="1.0" />
<rect x="114.50" y="384.85" width="8.70" height="46.55" fill="#F39200" />
<line x1="118.50" y1="384.85" x2="118.50" y2="377.76" stroke="#2a2a2a" stroke-width="1.0" />
<line x1="116.70" y1="377.76" x2="120.30" y2="377.76" stroke="#2a2a2a" stroke-width="1.0" />
<text x="118.50" y="377.86" font-size="6.4" fill="#2a2a2a" stroke="#2a2a2a" stroke-width="0.2" text-anchor="middle" >*</text>
<rect x="134.40" y="354.99" width="8.60" height="76.41" fill="#29A3E0" />
<line x1="138.50" y1="354.99" x2="138.50" y2="346.39" stroke="#2a2a2a" stroke-width="1.0" />
<line x1="136.70" y1="346.39" x2="140.30" y2="346.39" stroke="#2a2a2a" stroke-width="1.0" />
<rect x="145.30" y="425.02" width="8.10" height="6.38" fill="#F39200" />
<line x1="149.50" y1="425.02" x2="149.50" y2="420.27" stroke="#2a2a2a" stroke-width="1.0" />
<line x1="147.70" y1="420.27" x2="151.30" y2="420.27" stroke="#2a2a2a" stroke-width="1.0" />
<text x="149.50" y="420.37" font-size="6.4" fill="#2a2a2a" stroke="#2a2a2a" stroke-width="0.2" text-anchor="middle" >*</text>
<text x="78.50" y="379.40" font-size="7.9" fill="#2e2e2e" stroke="#2e2e2e" stroke-width="0.14" text-anchor="middle" textLength="27.30" lengthAdjust="spacingAndGlyphs" transform="rotate(-90 78.50 379.40)" >% colonies</text>
<text x="113.50" y="439.80" font-size="6.7" fill="#2e2e2e" stroke="#2e2e2e" stroke-width="0.14" text-anchor="middle" font-style="italic" textLength="24.00" lengthAdjust="spacingAndGlyphs" >Parental</text>
<text x="141.00" y="439.80" font-size="6.7" fill="#2e2e2e" stroke="#2e2e2e" stroke-width="0.14" text-anchor="middle" font-style="italic" textLength="19.00" lengthAdjust="spacingAndGlyphs" >RAD54</text>
<text x="151.00" y="437.00" font-size="3.6" fill="#2e2e2e" stroke="#2e2e2e" stroke-width="0.14" font-style="italic" >−/−</text>
<text x="172.20" y="318.75" font-size="11.4" fill="#111" font-weight="bold" >F</text>
<line x1="209.40" y1="322.40" x2="209.40" y2="428.90" stroke="#1a1a1a" stroke-width="1.0" />
<line x1="206.40" y1="428.40" x2="238.50" y2="428.40" stroke="#1a1a1a" stroke-width="1.0" />
<line x1="206.40" y1="428.40" x2="209.40" y2="428.40" stroke="#1a1a1a" stroke-width="0.8" />
<text x="202.80" y="430.80" font-size="6.7" fill="#2e2e2e" stroke="#2e2e2e" stroke-width="0.14" text-anchor="end" textLength="3.40" lengthAdjust="spacingAndGlyphs" >0</text>
<line x1="206.40" y1="415.50" x2="209.40" y2="415.50" stroke="#1a1a1a" stroke-width="0.8" />
<text x="202.80" y="417.90" font-size="6.7" fill="#2e2e2e" stroke="#2e2e2e" stroke-width="0.14" text-anchor="end" textLength="6.80" lengthAdjust="spacingAndGlyphs" >20</text>
<line x1="206.40" y1="402.60" x2="209.40" y2="402.60" stroke="#1a1a1a" stroke-width="0.8" />
<text x="202.80" y="405.00" font-size="6.7" fill="#2e2e2e" stroke="#2e2e2e" stroke-width="0.14" text-anchor="end" textLength="6.80" lengthAdjust="spacingAndGlyphs" >40</text>
<line x1="206.40" y1="389.70" x2="209.40" y2="389.70" stroke="#1a1a1a" stroke-width="0.8" />
<text x="202.80" y="392.10" font-size="6.7" fill="#2e2e2e" stroke="#2e2e2e" stroke-width="0.14" text-anchor="end" textLength="6.80" lengthAdjust="spacingAndGlyphs" >60</text>
<line x1="206.40" y1="376.80" x2="209.40" y2="376.80" stroke="#1a1a1a" stroke-width="0.8" />
<text x="202.80" y="379.20" font-size="6.7" fill="#2e2e2e" stroke="#2e2e2e" stroke-width="0.14" text-anchor="end" textLength="6.80" lengthAdjust="spacingAndGlyphs" >80</text>
<line x1="206.40" y1="363.90" x2="209.40" y2="363.90" stroke="#1a1a1a" stroke-width="0.8" />
<text x="202.80" y="366.30" font-size="6.7" fill="#2e2e2e" stroke="#2e2e2e" stroke-width="0.14" text-anchor="end" textLength="10.20" lengthAdjust="spacingAndGlyphs" >100</text>
<line x1="206.40" y1="351.00" x2="209.40" y2="351.00" stroke="#1a1a1a" stroke-width="0.8" />
<text x="202.80" y="353.40" font-size="6.7" fill="#2e2e2e" stroke="#2e2e2e" stroke-width="0.14" text-anchor="end" textLength="10.20" lengthAdjust="spacingAndGlyphs" >120</text>
<line x1="206.40" y1="338.10" x2="209.40" y2="338.10" stroke="#1a1a1a" stroke-width="0.8" />
<text x="202.80" y="340.50" font-size="6.7" fill="#2e2e2e" stroke="#2e2e2e" stroke-width="0.14" text-anchor="end" textLength="10.20" lengthAdjust="spacingAndGlyphs" >140</text>
<line x1="206.40" y1="325.20" x2="209.40" y2="325.20" stroke="#1a1a1a" stroke-width="0.8" />
<text x="202.80" y="327.60" font-size="6.7" fill="#2e2e2e" stroke="#2e2e2e" stroke-width="0.14" text-anchor="end" textLength="10.20" lengthAdjust="spacingAndGlyphs" >160</text>
<rect x="211.90" y="347.13" width="10.70" height="81.27" fill="#29A3E0" />
<line x1="217.50" y1="347.13" x2="217.50" y2="337.07" stroke="#2a2a2a" stroke-width="1.0" />
<line x1="215.70" y1="337.07" x2="219.30" y2="337.07" stroke="#2a2a2a" stroke-width="1.0" />
<rect x="224.90" y="405.82" width="10.70" height="22.57" fill="#F39200" />
<line x1="230.50" y1="405.82" x2="230.50" y2="401.31" stroke="#2a2a2a" stroke-width="1.0" />
<line x1="228.70" y1="401.31" x2="232.30" y2="401.31" stroke="#2a2a2a" stroke-width="1.0" />
<text x="230.50" y="401.41" font-size="6.4" fill="#2a2a2a" stroke="#2a2a2a" stroke-width="0.2" text-anchor="middle" >*</text>
<text x="187.80" y="375.00" font-size="7.9" fill="#2e2e2e" stroke="#2e2e2e" stroke-width="0.14" text-anchor="middle" textLength="24.50" lengthAdjust="spacingAndGlyphs" transform="rotate(-90 187.80 375.00)" ># colonies</text>
<text x="224.00" y="437.30" font-size="6.7" fill="#2e2e2e" stroke="#2e2e2e" stroke-width="0.14" text-anchor="middle" textLength="29.40" lengthAdjust="spacingAndGlyphs" >BCR-ABL1</text>
<text x="224.00" y="445.20" font-size="6.7" fill="#2e2e2e" stroke="#2e2e2e" stroke-width="0.14" text-anchor="middle" textLength="26.90" lengthAdjust="spacingAndGlyphs" >CML-CP1</text>
<line x1="278.90" y1="322.40" x2="278.90" y2="428.90" stroke="#1a1a1a" stroke-width="1.0" />
<line x1="275.90" y1="428.40" x2="308.50" y2="428.40" stroke="#1a1a1a" stroke-width="1.0" />
<line x1="275.90" y1="428.40" x2="278.90" y2="428.40" stroke="#1a1a1a" stroke-width="0.8" />
<text x="272.30" y="430.80" font-size="6.7" fill="#2e2e2e" stroke="#2e2e2e" stroke-width="0.14" text-anchor="end" textLength="3.40" lengthAdjust="spacingAndGlyphs" >0</text>
<line x1="275.90" y1="407.76" x2="278.90" y2="407.76" stroke="#1a1a1a" stroke-width="0.8" />
<text x="272.30" y="410.16" font-size="6.7" fill="#2e2e2e" stroke="#2e2e2e" stroke-width="0.14" text-anchor="end" textLength="6.80" lengthAdjust="spacingAndGlyphs" >50</text>
<line x1="275.90" y1="387.12" x2="278.90" y2="387.12" stroke="#1a1a1a" stroke-width="0.8" />
<text x="272.30" y="389.52" font-size="6.7" fill="#2e2e2e" stroke="#2e2e2e" stroke-width="0.14" text-anchor="end" textLength="10.20" lengthAdjust="spacingAndGlyphs" >100</text>
<line x1="275.90" y1="366.48" x2="278.90" y2="366.48" stroke="#1a1a1a" stroke-width="0.8" />
<text x="272.30" y="368.88" font-size="6.7" fill="#2e2e2e" stroke="#2e2e2e" stroke-width="0.14" text-anchor="end" textLength="10.20" lengthAdjust="spacingAndGlyphs" >150</text>
<line x1="275.90" y1="345.84" x2="278.90" y2="345.84" stroke="#1a1a1a" stroke-width="0.8" />
<text x="272.30" y="348.24" font-size="6.7" fill="#2e2e2e" stroke="#2e2e2e" stroke-width="0.14" text-anchor="end" textLength="10.20" lengthAdjust="spacingAndGlyphs" >200</text>
<line x1="275.90" y1="325.20" x2="278.90" y2="325.20" stroke="#1a1a1a" stroke-width="0.8" />
<text x="272.30" y="327.60" font-size="6.7" fill="#2e2e2e" stroke="#2e2e2e" stroke-width="0.14" text-anchor="end" textLength="10.20" lengthAdjust="spacingAndGlyphs" >250</text>
<rect x="281.80" y="346.25" width="10.70" height="82.15" fill="#29A3E0" />
<line x1="287.50" y1="346.25" x2="287.50" y2="332.63" stroke="#2a2a2a" stroke-width="1.0" />
<line x1="285.70" y1="332.63" x2="289.30" y2="332.63" stroke="#2a2a2a" stroke-width="1.0" />
<rect x="294.80" y="409.41" width="10.70" height="18.99" fill="#F39200" />
<line x1="300.50" y1="409.41" x2="300.50" y2="404.04" stroke="#2a2a2a" stroke-width="1.0" />
<line x1="298.70" y1="404.04" x2="302.30" y2="404.04" stroke="#2a2a2a" stroke-width="1.0" />
<text x="300.50" y="404.14" font-size="6.4" fill="#2a2a2a" stroke="#2a2a2a" stroke-width="0.2" text-anchor="middle" >*</text>
<text x="262.40" y="375.00" font-size="7.9" fill="#2e2e2e" stroke="#2e2e2e" stroke-width="0.14" text-anchor="middle" textLength="24.50" lengthAdjust="spacingAndGlyphs" transform="rotate(-90 262.40 375.00)" ># colonies</text>
<text x="294.50" y="437.30" font-size="6.7" fill="#2e2e2e" stroke="#2e2e2e" stroke-width="0.14" text-anchor="middle" textLength="29.40" lengthAdjust="spacingAndGlyphs" >BCR-ABL1</text>
<text x="294.50" y="445.20" font-size="6.7" fill="#2e2e2e" stroke="#2e2e2e" stroke-width="0.14" text-anchor="middle" textLength="26.90" lengthAdjust="spacingAndGlyphs" >CML-CP2</text>
<line x1="353.10" y1="322.40" x2="353.10" y2="428.90" stroke="#1a1a1a" stroke-width="1.0" />
<line x1="350.10" y1="428.40" x2="383.00" y2="428.40" stroke="#1a1a1a" stroke-width="1.0" />
<line x1="350.10" y1="428.40" x2="353.10" y2="428.40" stroke="#1a1a1a" stroke-width="0.8" />
<text x="346.50" y="430.80" font-size="6.7" fill="#2e2e2e" stroke="#2e2e2e" stroke-width="0.14" text-anchor="end" textLength="3.40" lengthAdjust="spacingAndGlyphs" >0</text>
<line x1="350.10" y1="416.93" x2="353.10" y2="416.93" stroke="#1a1a1a" stroke-width="0.8" />
<text x="346.50" y="419.33" font-size="6.7" fill="#2e2e2e" stroke="#2e2e2e" stroke-width="0.14" text-anchor="end" textLength="6.80" lengthAdjust="spacingAndGlyphs" >20</text>
<line x1="350.10" y1="405.47" x2="353.10" y2="405.47" stroke="#1a1a1a" stroke-width="0.8" />
<text x="346.50" y="407.87" font-size="6.7" fill="#2e2e2e" stroke="#2e2e2e" stroke-width="0.14" text-anchor="end" textLength="6.80" lengthAdjust="spacingAndGlyphs" >40</text>
<line x1="350.10" y1="394.00" x2="353.10" y2="394.00" stroke="#1a1a1a" stroke-width="0.8" />
<text x="346.50" y="396.40" font-size="6.7" fill="#2e2e2e" stroke="#2e2e2e" stroke-width="0.14" text-anchor="end" textLength="6.80" lengthAdjust="spacingAndGlyphs" >60</text>
<line x1="350.10" y1="382.53" x2="353.10" y2="382.53" stroke="#1a1a1a" stroke-width="0.8" />
<text x="346.50" y="384.93" font-size="6.7" fill="#2e2e2e" stroke="#2e2e2e" stroke-width="0.14" text-anchor="end" textLength="6.80" lengthAdjust="spacingAndGlyphs" >80</text>
<line x1="350.10" y1="371.07" x2="353.10" y2="371.07" stroke="#1a1a1a" stroke-width="0.8" />
<text x="346.50" y="373.47" font-size="6.7" fill="#2e2e2e" stroke="#2e2e2e" stroke-width="0.14" text-anchor="end" textLength="10.20" lengthAdjust="spacingAndGlyphs" >100</text>
<line x1="350.10" y1="359.60" x2="353.10" y2="359.60" stroke="#1a1a1a" stroke-width="0.8" />
<text x="346.50" y="362.00" font-size="6.7" fill="#2e2e2e" stroke="#2e2e2e" stroke-width="0.14" text-anchor="end" textLength="10.20" lengthAdjust="spacingAndGlyphs" >120</text>
<line x1="350.10" y1="348.13" x2="353.10" y2="348.13" stroke="#1a1a1a" stroke-width="0.8" />
<text x="346.50" y="350.53" font-size="6.7" fill="#2e2e2e" stroke="#2e2e2e" stroke-width="0.14" text-anchor="end" textLength="10.20" lengthAdjust="spacingAndGlyphs" >140</text>
<line x1="350.10" y1="336.67" x2="353.10" y2="336.67" stroke="#1a1a1a" stroke-width="0.8" />
<text x="346.50" y="339.07" font-size="6.7" fill="#2e2e2e" stroke="#2e2e2e" stroke-width="0.14" text-anchor="end" textLength="10.20" lengthAdjust="spacingAndGlyphs" >160</text>
<line x1="350.10" y1="325.20" x2="353.10" y2="325.20" stroke="#1a1a1a" stroke-width="0.8" />
<text x="346.50" y="327.60" font-size="6.7" fill="#2e2e2e" stroke="#2e2e2e" stroke-width="0.14" text-anchor="end" textLength="10.20" lengthAdjust="spacingAndGlyphs" >180</text>
<rect x="355.80" y="344.41" width="11.00" height="83.99" fill="#29A3E0" />
<line x1="361.50" y1="344.41" x2="361.50" y2="331.51" stroke="#2a2a2a" stroke-width="1.0" />
<line x1="359.70" y1="331.51" x2="363.30" y2="331.51" stroke="#2a2a2a" stroke-width="1.0" />
<rect x="368.80" y="386.83" width="11.00" height="41.57" fill="#F39200" />
<line x1="374.50" y1="386.83" x2="374.50" y2="380.24" stroke="#2a2a2a" stroke-width="1.0" />
<line x1="372.70" y1="380.24" x2="376.30" y2="380.24" stroke="#2a2a2a" stroke-width="1.0" />
<text x="374.50" y="380.34" font-size="6.4" fill="#2a2a2a" stroke="#2a2a2a" stroke-width="0.2" text-anchor="middle" >*</text>
<text x="331.80" y="375.00" font-size="7.9" fill="#2e2e2e" stroke="#2e2e2e" stroke-width="0.14" text-anchor="middle" textLength="24.50" lengthAdjust="spacingAndGlyphs" transform="rotate(-90 331.80 375.00)" ># colonies</text>
<text x="367.50" y="437.30" font-size="6.7" fill="#2e2e2e" stroke="#2e2e2e" stroke-width="0.14" text-anchor="middle" textLength="28.00" lengthAdjust="spacingAndGlyphs" >FLT3(ITD)</text>
<text x="367.50" y="445.20" font-size="6.7" fill="#2e2e2e" stroke="#2e2e2e" stroke-width="0.14" text-anchor="middle" textLength="16.50" lengthAdjust="spacingAndGlyphs" >AML1</text>
<line x1="426.90" y1="322.40" x2="426.90" y2="428.90" stroke="#1a1a1a" stroke-width="1.0" />
<line x1="423.90" y1="428.40" x2="456.50" y2="428.40" stroke="#1a1a1a" stroke-width="1.0" />
<line x1="423.90" y1="428.40" x2="426.90" y2="428.40" stroke="#1a1a1a" stroke-width="0.8" />
<text x="420.30" y="430.80" font-size="6.7" fill="#2e2e2e" stroke="#2e2e2e" stroke-width="0.14" text-anchor="end" textLength="3.40" lengthAdjust="spacingAndGlyphs" >0</text>
<line x1="423.90" y1="407.76" x2="426.90" y2="407.76" stroke="#1a1a1a" stroke-width="0.8" />
<text x="420.30" y="410.16" font-size="6.7" fill="#2e2e2e" stroke="#2e2e2e" stroke-width="0.14" text-anchor="end" textLength="6.80" lengthAdjust="spacingAndGlyphs" >50</text>
<line x1="423.90" y1="387.12" x2="426.90" y2="387.12" stroke="#1a1a1a" stroke-width="0.8" />
<text x="420.30" y="389.52" font-size="6.7" fill="#2e2e2e" stroke="#2e2e2e" stroke-width="0.14" text-anchor="end" textLength="10.20" lengthAdjust="spacingAndGlyphs" >100</text>
<line x1="423.90" y1="366.48" x2="426.90" y2="366.48" stroke="#1a1a1a" stroke-width="0.8" />
<text x="420.30" y="368.88" font-size="6.7" fill="#2e2e2e" stroke="#2e2e2e" stroke-width="0.14" text-anchor="end" textLength="10.20" lengthAdjust="spacingAndGlyphs" >150</text>
<line x1="423.90" y1="345.84" x2="426.90" y2="345.84" stroke="#1a1a1a" stroke-width="0.8" />
<text x="420.30" y="348.24" font-size="6.7" fill="#2e2e2e" stroke="#2e2e2e" stroke-width="0.14" text-anchor="end" textLength="10.20" lengthAdjust="spacingAndGlyphs" >200</text>
<line x1="423.90" y1="325.20" x2="426.90" y2="325.20" stroke="#1a1a1a" stroke-width="0.8" />
<text x="420.30" y="327.60" font-size="6.7" fill="#2e2e2e" stroke="#2e2e2e" stroke-width="0.14" text-anchor="end" textLength="10.20" lengthAdjust="spacingAndGlyphs" >250</text>
<rect x="429.70" y="342.12" width="10.40" height="86.28" fill="#29A3E0" />
<line x1="434.50" y1="342.12" x2="434.50" y2="328.92" stroke="#2a2a2a" stroke-width="1.0" />
<line x1="432.70" y1="328.92" x2="436.30" y2="328.92" stroke="#2a2a2a" stroke-width="1.0" />
<rect x="443.00" y="405.70" width="10.60" height="22.70" fill="#F39200" />
<line x1="448.50" y1="405.70" x2="448.50" y2="401.16" stroke="#2a2a2a" stroke-width="1.0" />
<line x1="446.70" y1="401.16" x2="450.30" y2="401.16" stroke="#2a2a2a" stroke-width="1.0" />
<text x="448.50" y="401.26" font-size="6.4" fill="#2a2a2a" stroke="#2a2a2a" stroke-width="0.2" text-anchor="middle" >*</text>
<text x="404.80" y="375.00" font-size="7.9" fill="#2e2e2e" stroke="#2e2e2e" stroke-width="0.14" text-anchor="middle" textLength="24.50" lengthAdjust="spacingAndGlyphs" transform="rotate(-90 404.80 375.00)" ># colonies</text>
<text x="441.20" y="437.30" font-size="6.7" fill="#2e2e2e" stroke="#2e2e2e" stroke-width="0.14" text-anchor="middle" textLength="28.00" lengthAdjust="spacingAndGlyphs" >FLT3(ITD)</text>
<text x="441.20" y="445.20" font-size="6.7" fill="#2e2e2e" stroke="#2e2e2e" stroke-width="0.14" text-anchor="middle" textLength="16.50" lengthAdjust="spacingAndGlyphs" >AML2</text>
<text x="0.30" y="466.20" font-size="11.4" fill="#111" font-weight="bold" >G</text>
<line x1="39.50" y1="470.00" x2="39.50" y2="584.40" stroke="#1a1a1a" stroke-width="1.0" />
<line x1="36.40" y1="583.90" x2="78.40" y2="583.90" stroke="#1a1a1a" stroke-width="1.0" />
<line x1="36.60" y1="583.90" x2="39.50" y2="583.90" stroke="#1a1a1a" stroke-width="0.8" />
<text x="32.90" y="586.20" font-size="6.5" fill="#2e2e2e" stroke="#2e2e2e" stroke-width="0.14" text-anchor="end" textLength="3.20" lengthAdjust="spacingAndGlyphs" >0</text>
<line x1="36.60" y1="561.70" x2="39.50" y2="561.70" stroke="#1a1a1a" stroke-width="0.8" />
<text x="32.90" y="564.00" font-size="6.5" fill="#2e2e2e" stroke="#2e2e2e" stroke-width="0.14" text-anchor="end" textLength="6.40" lengthAdjust="spacingAndGlyphs" >20</text>
<line x1="36.60" y1="539.50" x2="39.50" y2="539.50" stroke="#1a1a1a" stroke-width="0.8" />
<text x="32.90" y="541.80" font-size="6.5" fill="#2e2e2e" stroke="#2e2e2e" stroke-width="0.14" text-anchor="end" textLength="6.40" lengthAdjust="spacingAndGlyphs" >40</text>
<line x1="36.60" y1="517.30" x2="39.50" y2="517.30" stroke="#1a1a1a" stroke-width="0.8" />
<text x="32.90" y="519.60" font-size="6.5" fill="#2e2e2e" stroke="#2e2e2e" stroke-width="0.14" text-anchor="end" textLength="6.40" lengthAdjust="spacingAndGlyphs" >60</text>
<line x1="36.60" y1="495.10" x2="39.50" y2="495.10" stroke="#1a1a1a" stroke-width="0.8" />
<text x="32.90" y="497.40" font-size="6.5" fill="#2e2e2e" stroke="#2e2e2e" stroke-width="0.14" text-anchor="end" textLength="6.40" lengthAdjust="spacingAndGlyphs" >80</text>
<line x1="36.60" y1="472.90" x2="39.50" y2="472.90" stroke="#1a1a1a" stroke-width="0.8" />
<text x="32.90" y="475.20" font-size="6.5" fill="#2e2e2e" stroke="#2e2e2e" stroke-width="0.14" text-anchor="end" textLength="9.60" lengthAdjust="spacingAndGlyphs" >100</text>
<line x1="39.40" y1="583.90" x2="39.40" y2="586.70" stroke="#1a1a1a" stroke-width="0.8" />
<line x1="48.40" y1="583.90" x2="48.40" y2="586.70" stroke="#1a1a1a" stroke-width="0.8" />
<line x1="57.40" y1="583.90" x2="57.40" y2="586.70" stroke="#1a1a1a" stroke-width="0.8" />
<line x1="75.30" y1="583.90" x2="75.30" y2="586.70" stroke="#1a1a1a" stroke-width="0.8" />
<text x="42.20" y="592.80" font-size="6.8" fill="#2e2e2e" stroke="#2e2e2e" stroke-width="0.14" text-anchor="end" transform="rotate(-45 42.20 592.80)" >0</text>
<text x="51.20" y="592.80" font-size="6.8" fill="#2e2e2e" stroke="#2e2e2e" stroke-width="0.14" text-anchor="end" transform="rotate(-45 51.20 592.80)" >6.25</text>
<text x="60.20" y="592.80" font-size="6.8" fill="#2e2e2e" stroke="#2e2e2e" stroke-width="0.14" text-anchor="end" transform="rotate(-45 60.20 592.80)" >12.5</text>
<text x="78.10" y="592.80" font-size="6.8" fill="#2e2e2e" stroke="#2e2e2e" stroke-width="0.14" text-anchor="end" transform="rotate(-45 78.10 592.80)" >25</text>
<text x="16.30" y="526.50" font-size="7.9" fill="#2e2e2e" stroke="#2e2e2e" stroke-width="0.06" text-anchor="middle" textLength="27.10" lengthAdjust="spacingAndGlyphs" transform="rotate(-90 16.30 526.50)" >% colonies</text>
<text x="58.75" y="612.20" font-size="7.2" fill="#2e2e2e" stroke="#2e2e2e" stroke-width="0.14" text-anchor="middle" textLength="35.10" lengthAdjust="spacingAndGlyphs" >ART558 (µM)</text>
<polyline points="39.40,472.90 48.40,476.01 57.40,490.66 75.30,503.98" fill="none" stroke="#1a1a1a" stroke-width="0.8" stroke-linejoin="round" stroke-linecap="round" />
<polyline points="39.40,472.90 48.40,506.20 57.40,519.96 75.30,540.50" fill="none" stroke="#1a1a1a" stroke-width="0.8" stroke-linejoin="round" stroke-linecap="round" />
<polyline points="39.40,472.90 48.40,497.76 57.40,517.30 75.30,546.16" fill="none" stroke="#1a1a1a" stroke-width="0.8" stroke-linejoin="round" stroke-linecap="round" />
<polyline points="39.40,472.90 48.40,501.98 57.40,514.64 75.30,534.50" fill="none" stroke="#1a1a1a" stroke-width="0.8" stroke-linejoin="round" stroke-linecap="round" />
<polyline points="39.40,472.90 48.40,519.63 57.40,538.72 75.30,564.81" fill="none" stroke="#1a1a1a" stroke-width="0.8" stroke-linejoin="round" stroke-linecap="round" />
<polyline points="39.40,472.90 48.40,492.88 57.40,510.64 75.30,528.29" fill="none" stroke="#1a1a1a" stroke-width="0.8" stroke-linejoin="round" stroke-linecap="round" />
<line x1="48.40" y1="473.23" x2="48.40" y2="478.78" stroke="#333" stroke-width="0.8" />
<line x1="46.90" y1="473.23" x2="49.90" y2="473.23" stroke="#333" stroke-width="0.8" />
<line x1="46.90" y1="478.78" x2="49.90" y2="478.78" stroke="#333" stroke-width="0.8" />
<line x1="57.40" y1="481.78" x2="57.40" y2="499.54" stroke="#333" stroke-width="0.8" />
<line x1="55.90" y1="481.78" x2="58.90" y2="481.78" stroke="#333" stroke-width="0.8" />
<line x1="55.90" y1="499.54" x2="58.90" y2="499.54" stroke="#333" stroke-width="0.8" />
<line x1="75.30" y1="496.21" x2="75.30" y2="511.75" stroke="#333" stroke-width="0.8" />
<line x1="73.80" y1="496.21" x2="76.80" y2="496.21" stroke="#333" stroke-width="0.8" />
<line x1="73.80" y1="511.75" x2="76.80" y2="511.75" stroke="#333" stroke-width="0.8" />
<line x1="48.40" y1="501.76" x2="48.40" y2="510.64" stroke="#333" stroke-width="0.8" />
<line x1="46.90" y1="501.76" x2="49.90" y2="501.76" stroke="#333" stroke-width="0.8" />
<line x1="46.90" y1="510.64" x2="49.90" y2="510.64" stroke="#333" stroke-width="0.8" />
<line x1="57.40" y1="515.52" x2="57.40" y2="524.40" stroke="#333" stroke-width="0.8" />
<line x1="55.90" y1="515.52" x2="58.90" y2="515.52" stroke="#333" stroke-width="0.8" />
<line x1="55.90" y1="524.40" x2="58.90" y2="524.40" stroke="#333" stroke-width="0.8" />
<line x1="75.30" y1="538.28" x2="75.30" y2="542.72" stroke="#333" stroke-width="0.8" />
<line x1="73.80" y1="538.28" x2="76.80" y2="538.28" stroke="#333" stroke-width="0.8" />
<line x1="73.80" y1="542.72" x2="76.80" y2="542.72" stroke="#333" stroke-width="0.8" />
<line x1="48.40" y1="493.32" x2="48.40" y2="502.20" stroke="#333" stroke-width="0.8" />
<line x1="46.90" y1="493.32" x2="49.90" y2="493.32" stroke="#333" stroke-width="0.8" />
<line x1="46.90" y1="502.20" x2="49.90" y2="502.20" stroke="#333" stroke-width="0.8" />
<line x1="57.40" y1="513.97" x2="57.40" y2="520.63" stroke="#333" stroke-width="0.8" />
<line x1="55.90" y1="513.97" x2="58.90" y2="513.97" stroke="#333" stroke-width="0.8" />
<line x1="55.90" y1="520.63" x2="58.90" y2="520.63" stroke="#333" stroke-width="0.8" />
<line x1="75.30" y1="543.94" x2="75.30" y2="548.38" stroke="#333" stroke-width="0.8" />
<line x1="73.80" y1="543.94" x2="76.80" y2="543.94" stroke="#333" stroke-width="0.8" />
<line x1="73.80" y1="548.38" x2="76.80" y2="548.38" stroke="#333" stroke-width="0.8" />
<line x1="48.40" y1="497.54" x2="48.40" y2="506.42" stroke="#333" stroke-width="0.8" />
<line x1="46.90" y1="497.54" x2="49.90" y2="497.54" stroke="#333" stroke-width="0.8" />
<line x1="46.90" y1="506.42" x2="49.90" y2="506.42" stroke="#333" stroke-width="0.8" />
<line x1="57.40" y1="511.31" x2="57.40" y2="517.97" stroke="#333" stroke-width="0.8" />
<line x1="55.90" y1="511.31" x2="58.90" y2="511.31" stroke="#333" stroke-width="0.8" />
<line x1="55.90" y1="517.97" x2="58.90" y2="517.97" stroke="#333" stroke-width="0.8" />
<line x1="75.30" y1="532.28" x2="75.30" y2="536.73" stroke="#333" stroke-width="0.8" />
<line x1="73.80" y1="532.28" x2="76.80" y2="532.28" stroke="#333" stroke-width="0.8" />
<line x1="73.80" y1="536.73" x2="76.80" y2="536.73" stroke="#333" stroke-width="0.8" />
<line x1="48.40" y1="511.31" x2="48.40" y2="527.96" stroke="#333" stroke-width="0.8" />
<line x1="46.90" y1="511.31" x2="49.90" y2="511.31" stroke="#333" stroke-width="0.8" />
<line x1="46.90" y1="527.96" x2="49.90" y2="527.96" stroke="#333" stroke-width="0.8" />
<line x1="57.40" y1="533.73" x2="57.40" y2="543.72" stroke="#333" stroke-width="0.8" />
<line x1="55.90" y1="533.73" x2="58.90" y2="533.73" stroke="#333" stroke-width="0.8" />
<line x1="55.90" y1="543.72" x2="58.90" y2="543.72" stroke="#333" stroke-width="0.8" />
<line x1="75.30" y1="560.92" x2="75.30" y2="568.69" stroke="#333" stroke-width="0.8" />
<line x1="73.80" y1="560.92" x2="76.80" y2="560.92" stroke="#333" stroke-width="0.8" />
<line x1="73.80" y1="568.69" x2="76.80" y2="568.69" stroke="#333" stroke-width="0.8" />
<line x1="48.40" y1="487.33" x2="48.40" y2="498.43" stroke="#333" stroke-width="0.8" />
<line x1="46.90" y1="487.33" x2="49.90" y2="487.33" stroke="#333" stroke-width="0.8" />
<line x1="46.90" y1="498.43" x2="49.90" y2="498.43" stroke="#333" stroke-width="0.8" />
<line x1="57.40" y1="505.09" x2="57.40" y2="516.19" stroke="#333" stroke-width="0.8" />
<line x1="55.90" y1="505.09" x2="58.90" y2="505.09" stroke="#333" stroke-width="0.8" />
<line x1="55.90" y1="516.19" x2="58.90" y2="516.19" stroke="#333" stroke-width="0.8" />
<line x1="75.30" y1="525.51" x2="75.30" y2="531.06" stroke="#333" stroke-width="0.8" />
<line x1="73.80" y1="525.51" x2="76.80" y2="525.51" stroke="#333" stroke-width="0.8" />
<line x1="73.80" y1="531.06" x2="76.80" y2="531.06" stroke="#333" stroke-width="0.8" />
<circle cx="39.40" cy="472.90" r="2.8" fill="#dcdcdc" stroke="#222" stroke-width="0.8"/>
<circle cx="48.40" cy="476.01" r="2.8" fill="#dcdcdc" stroke="#222" stroke-width="0.8"/>
<circle cx="57.40" cy="490.66" r="2.8" fill="#dcdcdc" stroke="#222" stroke-width="0.8"/>
<circle cx="75.30" cy="503.98" r="2.8" fill="#dcdcdc" stroke="#222" stroke-width="0.8"/>
<circle cx="39.40" cy="472.90" r="2.8" fill="#C98A1E" stroke="#222" stroke-width="0.8"/>
<circle cx="48.40" cy="506.20" r="2.8" fill="#C98A1E" stroke="#222" stroke-width="0.8"/>
<circle cx="57.40" cy="519.96" r="2.8" fill="#C98A1E" stroke="#222" stroke-width="0.8"/>
<circle cx="75.30" cy="540.50" r="2.8" fill="#C98A1E" stroke="#222" stroke-width="0.8"/>
<circle cx="39.40" cy="472.90" r="2.8" fill="#2E9B3B" stroke="#222" stroke-width="0.8"/>
<circle cx="48.40" cy="497.76" r="2.8" fill="#2E9B3B" stroke="#222" stroke-width="0.8"/>
<circle cx="57.40" cy="517.30" r="2.8" fill="#2E9B3B" stroke="#222" stroke-width="0.8"/>
<circle cx="75.30" cy="546.16" r="2.8" fill="#2E9B3B" stroke="#222" stroke-width="0.8"/>
<circle cx="39.40" cy="472.90" r="2.8" fill="#F2C31F" stroke="#222" stroke-width="0.8"/>
<circle cx="48.40" cy="501.98" r="2.8" fill="#F2C31F" stroke="#222" stroke-width="0.8"/>
<circle cx="57.40" cy="514.64" r="2.8" fill="#F2C31F" stroke="#222" stroke-width="0.8"/>
<circle cx="75.30" cy="534.50" r="2.8" fill="#F2C31F" stroke="#222" stroke-width="0.8"/>
<circle cx="39.40" cy="472.90" r="2.8" fill="#B5173C" stroke="#222" stroke-width="0.8"/>
<circle cx="48.40" cy="519.63" r="2.8" fill="#B5173C" stroke="#222" stroke-width="0.8"/>
<circle cx="57.40" cy="538.72" r="2.8" fill="#B5173C" stroke="#222" stroke-width="0.8"/>
<circle cx="75.30" cy="564.81" r="2.8" fill="#B5173C" stroke="#222" stroke-width="0.8"/>
<circle cx="39.40" cy="472.90" r="2.8" fill="#3FA0CF" stroke="#222" stroke-width="0.8"/>
<circle cx="48.40" cy="492.88" r="2.8" fill="#3FA0CF" stroke="#222" stroke-width="0.8"/>
<circle cx="57.40" cy="510.64" r="2.8" fill="#3FA0CF" stroke="#222" stroke-width="0.8"/>
<circle cx="75.30" cy="528.29" r="2.8" fill="#3FA0CF" stroke="#222" stroke-width="0.8"/>
<line x1="25.40" y1="621.70" x2="33.80" y2="621.70" stroke="#222" stroke-width="0.9" />
<circle cx="29.5" cy="621.70" r="2.3" fill="#dcdcdc" stroke="#222" stroke-width="0.8"/>
<text x="38.10" y="623.90" font-size="6.4" fill="#2e2e2e" stroke="#2e2e2e" stroke-width="0.14" textLength="21.00" lengthAdjust="spacingAndGlyphs" >Normal</text>
<line x1="25.40" y1="631.70" x2="33.80" y2="631.70" stroke="#222" stroke-width="0.9" />
<circle cx="29.5" cy="631.70" r="2.3" fill="#C98A1E" stroke="#222" stroke-width="0.8"/>
<text x="38.10" y="633.90" font-size="6.4" fill="#2e2e2e" stroke="#2e2e2e" stroke-width="0.14" textLength="42.60" lengthAdjust="spacingAndGlyphs" >FLT3(ITD)-AML</text>
<line x1="25.40" y1="641.70" x2="33.80" y2="641.70" stroke="#222" stroke-width="0.9" />
<circle cx="29.5" cy="641.70" r="2.3" fill="#2E9B3B" stroke="#222" stroke-width="0.8"/>
<text x="38.10" y="643.90" font-size="6.4" fill="#2e2e2e" stroke="#2e2e2e" stroke-width="0.14" textLength="53.80" lengthAdjust="spacingAndGlyphs" >JAK2(V617F)-MPN</text>
<line x1="25.40" y1="651.70" x2="33.80" y2="651.70" stroke="#222" stroke-width="0.9" />
<circle cx="29.5" cy="651.70" r="2.3" fill="#B5173C" stroke="#222" stroke-width="0.8"/>
<text x="38.10" y="653.90" font-size="6.4" fill="#2e2e2e" stroke="#2e2e2e" stroke-width="0.14" textLength="44.90" lengthAdjust="spacingAndGlyphs" >BCR-ABL1-CML</text>
<line x1="25.40" y1="661.70" x2="33.80" y2="661.70" stroke="#222" stroke-width="0.9" />
<circle cx="29.5" cy="661.70" r="2.3" fill="#F2C31F" stroke="#222" stroke-width="0.8"/>
<text x="38.10" y="663.90" font-size="6.4" fill="#2e2e2e" stroke="#2e2e2e" stroke-width="0.14" textLength="52.60" lengthAdjust="spacingAndGlyphs" >FLT3(D835Y)-AML</text>
<line x1="25.40" y1="671.70" x2="33.80" y2="671.70" stroke="#222" stroke-width="0.9" />
<circle cx="29.5" cy="671.70" r="2.3" fill="#3FA0CF" stroke="#222" stroke-width="0.8"/>
<text x="38.10" y="673.90" font-size="6.4" fill="#2e2e2e" stroke="#2e2e2e" stroke-width="0.14" textLength="51.80" lengthAdjust="spacingAndGlyphs" >cKIT(D816V)-AML</text>
<text x="101.90" y="465.85" font-size="11.4" fill="#111" font-weight="bold" >H</text>
<rect x="111.4" y="469.4" width="167.9" height="122.9" fill="none" stroke="#4a4a4a" stroke-width="1.0"/>
<path d="M115.20,531.20 C115.78,531.05 117.45,531.03 118.70,530.30 C119.95,529.57 121.27,528.33 122.70,526.80 C124.13,525.27 125.77,523.20 127.30,521.10 C128.83,519.00 130.37,516.90 131.90,514.20 C133.43,511.50 134.95,507.80 136.50,504.90 C138.05,502.00 139.65,499.30 141.20,496.80 C142.75,494.30 144.27,492.00 145.80,489.90 C147.33,487.80 148.87,485.93 150.40,484.20 C151.93,482.47 153.65,480.50 155.00,479.50 C156.35,478.50 157.47,478.45 158.50,478.20 C159.53,477.95 160.75,478.03 161.20,478.00 C199.23,478.0 237.27,493.8 275.3,493.8 L275.3,568.8 C237.27,568.8 199.23,584.6 161.2,584.6 C160.37,584.47 157.82,584.50 156.20,583.80 C154.58,583.10 153.05,581.93 151.50,580.40 C149.95,578.87 148.43,576.72 146.90,574.60 C145.37,572.48 143.83,570.20 142.30,567.70 C140.77,565.20 139.23,562.30 137.70,559.60 C136.17,556.90 134.63,554.18 133.10,551.50 C131.57,548.82 130.05,545.80 128.50,543.50 C126.95,541.20 125.35,539.33 123.80,537.70 C122.25,536.07 120.63,534.77 119.20,533.70 C117.77,532.63 115.87,531.70 115.20,531.30 Z" fill="#F39200" stroke="#3a2a0c" stroke-width="0.8" stroke-linejoin="round"/>
<line x1="113.60" y1="531.20" x2="116.50" y2="531.20" stroke="#2a2a5a" stroke-width="0.9" />
<path d="M161.20,494.00 C160.97,494.20 160.30,493.77 159.80,495.20 C159.30,496.63 158.73,500.13 158.20,502.60 C157.67,505.07 157.10,507.43 156.60,510.00 C156.10,512.57 155.70,515.42 155.20,518.00 C154.70,520.58 154.37,523.35 153.60,525.50 C152.83,527.65 150.87,529.48 150.60,530.90 C150.33,532.32 151.47,532.48 152.00,534.00 C152.53,535.52 153.23,537.67 153.80,540.00 C154.37,542.33 154.85,545.12 155.40,548.00 C155.95,550.88 156.52,554.47 157.10,557.30 C157.68,560.13 158.22,563.15 158.90,565.00 C159.58,566.85 160.82,567.83 161.20,568.40 C199.23,568.4 237.27,554.9 275.3,554.9 L275.3,508.0 C237.27,508.0 199.23,494.0 161.2,494.0 Z" fill="#D6E9D1" stroke="#3a2a0c" stroke-width="0.8" stroke-linejoin="round"/>
<path d="M161.2,506.5 L157.9,507.0 L154.4,515.3 L157.3,523.4 L161.2,523.9 C199.23,523.9 237.27,532.3 275.3,532.3 L275.3,515.7 C237.27,515.7 199.23,506.5 161.2,506.5 Z" fill="#5E1F70" stroke="#3a2a0c" stroke-width="0.8" stroke-linejoin="round"/>
<path d="M161.2,537.9 L158.5,538.2 L154.4,546.3 L157.3,555.0 L161.2,555.5 C199.23,555.5 237.27,546.6 275.3,546.6 L275.3,539.9 C237.27,539.9 199.23,537.9 161.2,537.9 Z" fill="#F8BE00" stroke="#3a2a0c" stroke-width="0.8" stroke-linejoin="round"/>
<line x1="161.00" y1="468.60" x2="161.00" y2="593.20" stroke="#ffffff" stroke-width="1.0" opacity="0.85"/>
<line x1="274.40" y1="468.60" x2="274.40" y2="593.20" stroke="#ffffff" stroke-width="1.0" opacity="0.85"/>
<text x="131.30" y="530.00" font-size="6.9" fill="#3a2a10" stroke="#3a2a10" stroke-width="0.1" font-style="italic" textLength="15.80" lengthAdjust="spacingAndGlyphs" >TET2;</text>
<text x="128.30" y="537.40" font-size="6.9" fill="#3a2a10" stroke="#3a2a10" stroke-width="0.1" font-style="italic" textLength="21.10" lengthAdjust="spacingAndGlyphs" >SMC1A</text>
<text x="164.60" y="520.30" font-size="6.8" fill="#ffffff" stroke="#ffffff" stroke-width="0.06" font-style="italic" textLength="75.00" lengthAdjust="spacingAndGlyphs" >TET2;SMC1A;WT1;SF3B1</text>
<text x="153.80" y="533.50" font-size="6.8" fill="#2f3a2a" stroke="#2f3a2a" stroke-width="0.08" font-style="italic" textLength="54.70" lengthAdjust="spacingAndGlyphs" >TET2;SMC1A;WT1</text>
<text x="162.80" y="547.30" font-size="6.8" fill="#3a2a10" stroke="#3a2a10" stroke-width="0.08" font-style="italic" textLength="71.50" lengthAdjust="spacingAndGlyphs" >TET2;SMC1A;WT1;FLT3</text>
<text x="161.60" y="601.30" font-size="6.6" fill="#2e2e2e" stroke="#2e2e2e" stroke-width="0.14" text-anchor="middle" >0</text>
<text x="274.00" y="601.30" font-size="6.6" fill="#2e2e2e" stroke="#2e2e2e" stroke-width="0.14" text-anchor="middle" >6</text>
<text x="214.90" y="612.80" font-size="7.4" fill="#2e2e2e" stroke="#2e2e2e" stroke-width="0.14" text-anchor="middle" textLength="11.60" lengthAdjust="spacingAndGlyphs" >Days</text>
<text x="294.90" y="465.85" font-size="11.4" fill="#111" font-weight="bold" >I</text>
<line x1="324.40" y1="535.60" x2="334.50" y2="536.80" stroke="#2a2a2a" stroke-width="1.0" />
<line x1="393.90" y1="536.80" x2="409.20" y2="535.75" stroke="#2a2a2a" stroke-width="1.0" />
<line x1="445.00" y1="519.50" x2="470.00" y2="496.25" stroke="#2a2a2a" stroke-width="1.0" />
<line x1="448.75" y1="552.00" x2="472.50" y2="568.75" stroke="#2a2a2a" stroke-width="1.0" />
<ellipse cx="311.0" cy="535.6" rx="13.4" ry="8.6" fill="#ffffff" stroke="#2a2a2a" stroke-width="0.75"/>
<ellipse cx="364.2" cy="536.8" rx="29.7" ry="14.4" fill="#F39200" stroke="#2a2a2a" stroke-width="0.75"/>
<ellipse cx="444.4" cy="535.75" rx="35.2" ry="15.85" fill="#D5EACF" stroke="#2a2a2a" stroke-width="0.75"/>
<ellipse cx="476.5" cy="482.9" rx="30.6" ry="13.0" fill="#5B1B6B" stroke="#2a2a2a" stroke-width="0.75"/>
<ellipse cx="478.0" cy="577.5" rx="24.4" ry="9.0" fill="#F6BE00" stroke="#2a2a2a" stroke-width="0.75"/>
<text x="311.00" y="537.90" font-size="6.6" fill="#333" stroke="#333" stroke-width="0.06" text-anchor="middle" textLength="14.50" lengthAdjust="spacingAndGlyphs" >Root</text>
<text x="365.20" y="533.80" font-size="6.7" fill="#4a2e05" stroke="#4a2e05" stroke-width="0.06" text-anchor="middle" textLength="41.60" lengthAdjust="spacingAndGlyphs" >TET2(L1721W)</text>
<text x="365.20" y="541.80" font-size="6.7" fill="#4a2e05" stroke="#4a2e05" stroke-width="0.06" text-anchor="middle" textLength="51.20" lengthAdjust="spacingAndGlyphs" >SMC1A(G1131W)</text>
<text x="445.00" y="537.95" font-size="6.7" fill="#2f3a2a" stroke="#2f3a2a" stroke-width="0.06" text-anchor="middle" textLength="38.00" lengthAdjust="spacingAndGlyphs" >WT1(R435G)</text>
<text x="476.50" y="480.00" font-size="6.6" fill="#efe0f7" stroke="#efe0f7" stroke-width="0.04" text-anchor="middle" textLength="22.50" lengthAdjust="spacingAndGlyphs" >SETBP1</text>
<text x="476.50" y="487.30" font-size="6.6" fill="#efe0f7" stroke="#efe0f7" stroke-width="0.04" text-anchor="middle" textLength="51.90" lengthAdjust="spacingAndGlyphs" >(H1100R/P1130T)</text>
<text x="478.00" y="579.30" font-size="6.6" fill="#4a2e05" stroke="#4a2e05" stroke-width="0.06" text-anchor="middle" textLength="35.50" lengthAdjust="spacingAndGlyphs" >FLT3(R834L)</text>
<text x="364.90" y="515.00" font-size="6.3" fill="#333" stroke="#333" stroke-width="0.1" text-anchor="middle" >29%</text>
<text x="431.90" y="516.80" font-size="6.3" fill="#333" stroke="#333" stroke-width="0.1" text-anchor="middle" >37%</text>
<text x="478.30" y="509.00" font-size="6.3" fill="#333" stroke="#333" stroke-width="0.1" text-anchor="middle" >16%</text>
<text x="480.80" y="563.50" font-size="6.3" fill="#333" stroke="#333" stroke-width="0.1" text-anchor="middle" >18%</text>
<text x="490.80" y="530.20" font-size="8.6" fill="#333" stroke="#333" stroke-width="0.1" textLength="28.00" lengthAdjust="spacingAndGlyphs" >Control</text>
<line x1="324.90" y1="657.20" x2="333.80" y2="657.20" stroke="#2a2a2a" stroke-width="1.0" />
<line x1="395.60" y1="657.20" x2="409.90" y2="657.25" stroke="#2a2a2a" stroke-width="1.0" />
<line x1="445.50" y1="640.75" x2="470.00" y2="618.25" stroke="#2a2a2a" stroke-width="1.0" />
<line x1="448.75" y1="673.75" x2="472.00" y2="690.00" stroke="#2a2a2a" stroke-width="1.0" />
<ellipse cx="311.2" cy="657.2" rx="13.7" ry="8.7" fill="#ffffff" stroke="#2a2a2a" stroke-width="0.75"/>
<ellipse cx="364.7" cy="657.2" rx="30.9" ry="15.8" fill="#F39200" stroke="#2a2a2a" stroke-width="0.75"/>
<ellipse cx="444.75" cy="657.25" rx="34.85" ry="16.1" fill="#D5EACF" stroke="#2a2a2a" stroke-width="0.75"/>
<ellipse cx="477.1" cy="607.0" rx="30.5" ry="10.9" fill="#5B1B6B" stroke="#2a2a2a" stroke-width="0.75"/>
<ellipse cx="475.75" cy="697.25" rx="20.35" ry="7.4" fill="#F6BE00" stroke="#2a2a2a" stroke-width="0.75"/>
<text x="311.20" y="659.50" font-size="6.6" fill="#333" stroke="#333" stroke-width="0.06" text-anchor="middle" textLength="14.50" lengthAdjust="spacingAndGlyphs" >Root</text>
<text x="365.70" y="654.20" font-size="6.7" fill="#4a2e05" stroke="#4a2e05" stroke-width="0.06" text-anchor="middle" textLength="41.60" lengthAdjust="spacingAndGlyphs" >TET2(L1721W)</text>
<text x="365.70" y="662.20" font-size="6.7" fill="#4a2e05" stroke="#4a2e05" stroke-width="0.06" text-anchor="middle" textLength="51.20" lengthAdjust="spacingAndGlyphs" >SMC1A(G1131W)</text>
<text x="445.35" y="659.45" font-size="6.7" fill="#2f3a2a" stroke="#2f3a2a" stroke-width="0.06" text-anchor="middle" textLength="38.00" lengthAdjust="spacingAndGlyphs" >WT1(R435G)</text>
<text x="477.10" y="604.10" font-size="6.6" fill="#efe0f7" stroke="#efe0f7" stroke-width="0.04" text-anchor="middle" textLength="22.50" lengthAdjust="spacingAndGlyphs" >SETBP1</text>
<text x="477.10" y="611.40" font-size="6.6" fill="#efe0f7" stroke="#efe0f7" stroke-width="0.04" text-anchor="middle" textLength="51.90" lengthAdjust="spacingAndGlyphs" >(H1100R/P1130T)</text>
<text x="475.75" y="699.95" font-size="6.6" fill="#4a2e05" stroke="#4a2e05" stroke-width="0.06" text-anchor="middle" textLength="36.50" lengthAdjust="spacingAndGlyphs" >FLT3(R834L)</text>
<text x="365.10" y="636.50" font-size="6.3" fill="#333" stroke="#333" stroke-width="0.1" text-anchor="middle" >32%</text>
<text x="430.00" y="639.80" font-size="6.3" fill="#333" stroke="#333" stroke-width="0.1" text-anchor="middle" >38%</text>
<text x="480.00" y="629.30" font-size="6.3" fill="#333" stroke="#333" stroke-width="0.1" text-anchor="middle" >21%</text>
<text x="479.40" y="684.30" font-size="6.3" fill="#E0457B" stroke="#E0457B" stroke-width="0.1" text-anchor="middle" >9%</text>
<text x="491.30" y="662.00" font-size="8.6" fill="#333" stroke="#333" stroke-width="0.1" textLength="28.70" lengthAdjust="spacingAndGlyphs" >ART558</text>
</svg>
</body></html>
